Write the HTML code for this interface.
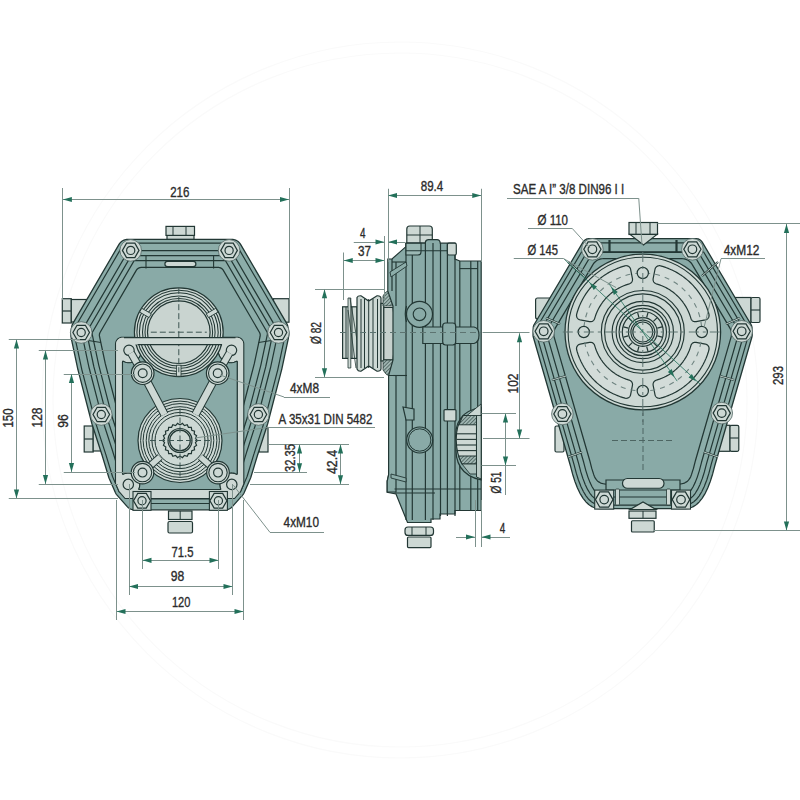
<!DOCTYPE html>
<html><head><meta charset="utf-8"><style>
html,body{margin:0;padding:0;background:#fff;}
svg{display:block;}
text{font-family:"Liberation Sans",sans-serif;fill:#2b2b2b;stroke:#2b2b2b;stroke-width:0.35px;}
</style></head><body>
<svg width="800" height="800" viewBox="0 0 800 800">
<circle cx="400" cy="400" r="347" fill="none" stroke="#fafafa" stroke-width="1.2"/>
<circle cx="400" cy="400" r="358" fill="none" stroke="#fafafa" stroke-width="1.2"/>
<rect x="62.30" y="298.70" width="9.00" height="24.30" rx="0" fill="#cdd8d4" stroke="#223734" stroke-width="1.2"/>
<line x1="62.30" y1="311.00" x2="71.30" y2="311.00" stroke="#223734" stroke-width="1.2"/>
<rect x="71.30" y="299.50" width="16.00" height="22.50" rx="0" fill="#cdd8d4" stroke="#223734" stroke-width="1.2"/>
<rect x="273.50" y="298.70" width="15.50" height="23.50" rx="0" fill="#cdd8d4" stroke="#223734" stroke-width="1.2"/>
<rect x="84.20" y="426.00" width="9.00" height="26.00" rx="0" fill="#cdd8d4" stroke="#223734" stroke-width="1.2"/>
<line x1="84.20" y1="439.00" x2="93.20" y2="439.00" stroke="#223734" stroke-width="1.2"/>
<rect x="93.20" y="427.00" width="8.00" height="24.00" rx="0" fill="#cdd8d4" stroke="#223734" stroke-width="1.2"/>
<rect x="259.00" y="427.50" width="9.00" height="24.50" rx="0" fill="#cdd8d4" stroke="#223734" stroke-width="1.2"/>
<rect x="167.00" y="235.00" width="27.00" height="4.50" rx="0" fill="#cdd8d4" stroke="#223734" stroke-width="1.2"/>
<rect x="166.00" y="226.40" width="28.50" height="9.00" rx="0" fill="#cdd8d4" stroke="#223734" stroke-width="1.2"/>
<line x1="173.00" y1="226.40" x2="173.00" y2="235.40" stroke="#223734" stroke-width="1"/>
<line x1="186.00" y1="226.40" x2="186.00" y2="235.40" stroke="#223734" stroke-width="1"/>
<rect x="168.50" y="511.00" width="23.50" height="8.50" rx="0" fill="#cdd8d4" stroke="#223734" stroke-width="1.2"/>
<line x1="180.20" y1="511.00" x2="180.20" y2="519.50" stroke="#223734" stroke-width="1"/>
<rect x="168.00" y="521.50" width="24.50" height="11.50" rx="1.5" fill="#cdd8d4" stroke="#223734" stroke-width="1.2"/>
<path d="M127.65,239.40 L126.70,239.44 L125.76,239.58 L124.84,239.80 L123.94,240.11 L123.08,240.50 L122.26,240.98 L121.49,241.52 L120.77,242.14 L120.11,242.83 L119.52,243.57 L119.01,244.36 L72.95,323.37 L72.52,324.20 L72.17,325.06 L71.90,325.95 L71.71,326.87 L70.83,332.49 L70.73,333.50 L70.73,334.51 L70.83,335.51 L71.16,337.70 L71.26,338.30 L77.95,369.78 L78.06,370.21 L91.93,423.72 L92.09,424.28 L101.99,454.96 L102.01,455.04 L108.83,477.44 L109.23,478.54 L115.37,492.56 L115.83,493.49 L116.40,494.37 L117.05,495.18 L127.02,506.43 L127.67,507.10 L128.39,507.71 L129.16,508.25 L129.97,508.72 L130.83,509.10 L131.72,509.41 L132.63,509.62 L133.56,509.76 L134.50,509.80 L225.10,509.80 L226.04,509.76 L226.97,509.62 L227.88,509.41 L228.77,509.10 L229.63,508.72 L230.44,508.25 L231.21,507.71 L231.93,507.10 L232.58,506.43 L242.55,495.18 L243.20,494.37 L243.77,493.49 L244.23,492.56 L250.37,478.54 L250.77,477.44 L257.59,455.04 L257.61,454.96 L267.51,424.28 L267.67,423.72 L281.54,370.21 L281.65,369.78 L288.34,338.30 L288.44,337.70 L288.77,335.51 L288.87,334.51 L288.87,333.50 L288.77,332.49 L287.89,326.87 L287.70,325.95 L287.43,325.06 L287.08,324.20 L286.65,323.37 L240.59,244.36 L240.08,243.57 L239.49,242.83 L238.83,242.14 L238.11,241.52 L237.34,240.98 L236.52,240.50 L235.66,240.11 L234.76,239.80 L233.84,239.58 L232.90,239.44 L231.95,239.40 L127.65,239.40Z" fill="#8cada9" stroke="#223734" stroke-width="1.3"/>
<path d="M127.06,243.23 L126.48,243.32 L125.91,243.45 L125.35,243.64 L124.82,243.89 L124.31,244.18 L123.83,244.52 L123.38,244.90 L122.98,245.33 L122.61,245.79 L122.24,246.36 L76.28,325.20 L75.97,325.80 L75.75,326.33 L75.58,326.88 L75.45,327.54 L74.60,332.98 L74.53,333.70 L74.53,334.32 L74.60,335.04 L74.90,337.08 L74.99,337.56 L81.66,368.95 L81.74,369.30 L95.59,422.71 L95.72,423.16 L105.61,453.81 L105.64,453.92 L112.43,476.23 L112.76,477.12 L118.81,490.94 L119.14,491.61 L119.39,492.00 L240.21,492.00 L240.46,491.61 L240.79,490.94 L246.84,477.12 L247.17,476.23 L253.96,453.92 L253.99,453.81 L263.88,423.16 L264.01,422.71 L277.86,369.30 L277.94,368.95 L284.61,337.56 L284.70,337.08 L285.00,335.04 L285.07,334.32 L285.07,333.70 L285.00,332.98 L284.15,327.54 L284.02,326.88 L283.85,326.33 L283.63,325.80 L283.32,325.20 L237.36,246.36 L236.99,245.79 L236.62,245.33 L236.22,244.90 L235.77,244.52 L235.29,244.18 L234.78,243.89 L234.25,243.64 L233.69,243.45 L233.12,243.32 L232.54,243.23 L231.86,243.20 L127.74,243.20 L127.06,243.23Z" fill="none" stroke="#223734" stroke-width="1.2"/>
<path d="M82.04,334.12 L82.30,335.86 L82.35,336.11 L88.98,367.31 L89.03,367.50 L102.82,420.72 L102.89,420.97 L112.76,451.54 L112.81,451.70 L119.54,473.83 L119.72,474.31 L125.60,487.76 L125.64,487.84 L125.70,487.91 L129.33,492.00 L230.27,492.00 L233.90,487.91 L233.96,487.84 L234.00,487.76 L239.88,474.31 L240.06,473.83 L246.79,451.70 L246.84,451.54 L256.71,420.97 L256.78,420.72 L270.57,367.50 L270.62,367.31 L277.25,336.11 L277.30,335.86 L277.56,334.12 L277.56,334.03 L277.56,333.95 L276.77,328.86 L276.76,328.85 L276.75,328.83 L231.21,250.70 L128.39,250.70 L82.85,328.83 L82.84,328.85 L82.83,328.86 L82.04,333.95 L82.04,334.03 L82.04,334.12Z" fill="none" stroke="#223734" stroke-width="1.2"/>
<path d="M87.14,335.06 L87.16,335.17 L93.76,366.24 L93.78,366.32 L107.55,419.42 L107.58,419.53 L117.43,450.05 L117.49,450.26 L124.19,472.27 L124.27,472.48 L129.82,485.17 L135.87,492.00 L223.73,492.00 L229.78,485.17 L235.33,472.48 L235.41,472.27 L242.11,450.26 L242.17,450.05 L252.02,419.53 L252.05,419.42 L265.82,366.32 L265.84,366.24 L272.44,335.17 L272.46,335.06 L272.61,334.04 L272.06,330.51 L228.39,255.60 L131.21,255.60 L87.54,330.51 L86.99,334.04 L87.14,335.06Z" fill="none" stroke="#223734" stroke-width="1.2"/>
<path d="M92.15,334.06 L92.17,334.20 L98.74,365.11 L112.46,418.05 L122.29,448.51 L122.36,448.75 L129.01,470.61 L134.17,482.39 L139.59,488.50 L220.01,488.50 L225.43,482.39 L230.59,470.61 L237.24,448.75 L237.31,448.51 L247.14,418.05 L260.86,365.11 L267.43,334.20 L267.45,334.06 L267.17,332.25 L225.46,260.70 L134.14,260.70 L92.43,332.25 L92.15,334.06Z" fill="none" stroke="#223734" stroke-width="1.2"/>
<path d="M99.94,332.72 L99.73,333.24 L99.56,333.76 L99.45,334.31 L99.39,334.85 L99.38,335.41 L99.42,335.96 L99.51,336.50 L105.23,363.44 L105.29,363.70 L118.85,416.01 L118.95,416.35 L128.66,446.45 L128.76,446.75 L135.21,467.94 L135.45,468.60 L139.50,477.87 L139.78,478.43 L140.12,478.95 L140.51,479.44 L140.81,479.78 L141.20,480.18 L141.63,480.55 L142.09,480.87 L142.58,481.15 L143.10,481.38 L143.63,481.56 L144.18,481.69 L144.74,481.77 L145.30,481.80 L214.30,481.80 L214.86,481.77 L215.42,481.69 L215.97,481.56 L216.50,481.38 L217.02,481.15 L217.51,480.87 L217.97,480.55 L218.40,480.18 L218.79,479.78 L219.09,479.44 L219.48,478.95 L219.82,478.43 L220.10,477.87 L224.15,468.60 L224.39,467.94 L230.83,446.80 L230.92,446.50 L240.65,416.35 L240.75,416.01 L254.31,363.70 L254.37,363.44 L260.09,336.50 L260.18,335.96 L260.22,335.41 L260.21,334.85 L260.15,334.31 L260.04,333.76 L259.87,333.24 L259.66,332.72 L259.41,332.23 L223.35,270.38 L223.04,269.90 L222.69,269.46 L222.29,269.05 L221.86,268.67 L221.40,268.35 L220.90,268.06 L220.39,267.83 L219.85,267.64 L219.30,267.51 L218.73,267.43 L218.16,267.40 L141.44,267.40 L140.87,267.43 L140.30,267.51 L139.75,267.64 L139.21,267.83 L138.70,268.06 L138.20,268.35 L137.74,268.67 L137.31,269.05 L136.91,269.46 L136.56,269.90 L136.25,270.38 L100.19,332.23 L99.94,332.72Z" fill="#89aaa7" stroke="#223734" stroke-width="1.25"/>
<line x1="72.50" y1="338.00" x2="101.00" y2="342.50" stroke="#223734" stroke-width="1.1"/>
<line x1="287.10" y1="338.00" x2="258.60" y2="342.50" stroke="#223734" stroke-width="1.1"/>
<line x1="146.00" y1="256.00" x2="146.00" y2="268.60" stroke="#223734" stroke-width="1.1"/>
<line x1="213.60" y1="256.00" x2="213.60" y2="268.60" stroke="#223734" stroke-width="1.1"/>
<rect x="164.90" y="261.30" width="31.00" height="5.40" rx="2.7" fill="#cdd8d4" stroke="#223734" stroke-width="1.2"/>
<path d="M243.50,342.17 L243.27,341.52 L242.97,340.90 L242.62,340.31 L242.21,339.76 L241.75,339.25 L241.24,338.79 L240.69,338.38 L240.10,338.03 L239.48,337.73 L238.83,337.50 L238.17,337.33 L237.49,337.23 L236.80,337.20 L122.50,337.20 L121.81,337.23 L121.13,337.33 L120.47,337.50 L119.82,337.73 L119.20,338.03 L118.61,338.38 L118.06,338.79 L117.55,339.25 L117.09,339.76 L116.68,340.31 L116.33,340.90 L116.03,341.52 L115.80,342.17 L115.63,342.83 L115.53,343.51 L115.50,344.20 L115.50,483.38 L118.81,490.94 L119.14,491.61 L119.49,492.15 L119.96,492.73 L125.06,498.50 L234.54,498.50 L239.64,492.73 L240.11,492.15 L240.46,491.61 L240.79,490.94 L243.80,484.06 L243.80,344.20 L243.77,343.51 L243.67,342.83 L243.50,342.17Z M124.21,361.84 L124.23,361.85 L125.36,362.26 L125.38,362.26 L126.55,362.56 L126.57,362.56 L127.76,362.74 L127.79,362.74 L128.99,362.80 L129.01,362.80 L130.21,362.74 L130.24,362.74 L131.43,362.56 L131.45,362.56 L132.62,362.26 L132.64,362.26 L133.77,361.85 L133.79,361.84 L134.88,361.33 L134.90,361.32 L135.93,360.70 L135.95,360.69 L136.92,359.97 L136.94,359.95 L137.83,359.15 L137.85,359.13 L138.65,358.24 L138.67,358.22 L139.39,357.25 L139.40,357.23 L140.02,356.20 L140.03,356.18 L140.54,355.09 L140.55,355.07 L140.96,353.94 L140.96,353.92 L141.26,352.75 L141.26,352.73 L141.44,351.54 L141.44,351.51 L141.50,350.31 L141.50,350.29 L141.44,349.09 L141.44,349.06 L141.26,347.87 L141.26,347.85 L140.96,346.68 L140.96,346.66 L140.60,345.67 L140.59,345.62 L140.58,345.58 L140.57,345.53 L140.57,345.48 L140.58,345.43 L140.59,345.39 L140.60,345.34 L140.62,345.30 L140.64,345.25 L140.66,345.21 L140.69,345.17 L140.73,345.14 L140.76,345.11 L140.80,345.08 L140.84,345.06 L140.89,345.04 L140.93,345.02 L140.98,345.01 L141.03,345.00 L141.07,345.00 L218.53,345.00 L218.57,345.00 L218.62,345.01 L218.67,345.02 L218.71,345.04 L218.76,345.06 L218.80,345.08 L218.84,345.11 L218.87,345.14 L218.91,345.17 L218.94,345.21 L218.96,345.25 L218.98,345.30 L219.00,345.34 L219.01,345.39 L219.02,345.43 L219.03,345.48 L219.03,345.53 L219.02,345.58 L219.01,345.62 L219.00,345.67 L218.64,346.66 L218.64,346.68 L218.34,347.85 L218.34,347.87 L218.16,349.06 L218.16,349.09 L218.10,350.29 L218.10,350.31 L218.16,351.51 L218.16,351.54 L218.34,352.73 L218.34,352.75 L218.64,353.92 L218.64,353.94 L219.05,355.07 L219.06,355.09 L219.57,356.18 L219.58,356.20 L220.20,357.23 L220.21,357.25 L220.93,358.22 L220.95,358.24 L221.75,359.13 L221.77,359.15 L222.66,359.95 L222.68,359.97 L223.65,360.69 L223.67,360.70 L224.70,361.32 L224.72,361.33 L225.81,361.84 L225.83,361.85 L226.96,362.26 L226.98,362.26 L228.15,362.56 L228.17,362.56 L229.36,362.74 L229.39,362.74 L230.59,362.80 L230.61,362.80 L231.81,362.74 L231.84,362.74 L233.03,362.56 L233.05,362.56 L234.22,362.26 L234.24,362.26 L235.37,361.85 L235.39,361.84 L236.49,361.33 L236.53,361.31 L236.58,361.29 L236.63,361.28 L236.68,361.28 L236.73,361.28 L236.78,361.29 L236.83,361.30 L236.88,361.31 L236.92,361.33 L236.97,361.36 L237.01,361.39 L237.05,361.42 L237.08,361.46 L237.11,361.50 L237.14,361.54 L237.16,361.58 L237.18,361.63 L237.19,361.68 L237.20,361.73 L237.20,361.78 L237.20,473.69 L237.20,473.75 L237.19,473.79 L237.18,473.84 L237.16,473.89 L237.14,473.94 L237.11,473.98 L237.08,474.02 L237.05,474.06 L237.01,474.09 L236.97,474.12 L236.92,474.14 L236.88,474.16 L236.83,474.18 L236.78,474.19 L236.73,474.19 L236.68,474.19 L236.63,474.19 L236.58,474.18 L236.53,474.17 L236.49,474.15 L235.71,473.78 L235.69,473.77 L234.65,473.40 L234.63,473.39 L233.56,473.12 L233.53,473.12 L232.44,472.96 L232.41,472.95 L231.31,472.90 L231.29,472.90 L230.19,472.95 L230.16,472.96 L229.07,473.12 L229.04,473.12 L227.97,473.39 L227.95,473.40 L226.91,473.77 L226.89,473.78 L225.89,474.25 L225.87,474.26 L224.92,474.83 L224.90,474.85 L224.01,475.50 L224.00,475.52 L223.18,476.26 L223.16,476.28 L222.42,477.10 L222.40,477.11 L221.75,478.00 L221.73,478.02 L221.16,478.97 L221.15,478.99 L220.68,479.99 L220.67,480.01 L220.30,481.05 L220.29,481.07 L220.02,482.14 L220.02,482.17 L219.86,483.26 L219.85,483.29 L219.80,484.39 L219.80,484.41 L219.85,485.51 L219.86,485.54 L220.02,486.63 L220.02,486.66 L220.29,487.73 L220.30,487.75 L220.67,488.79 L220.68,488.81 L220.70,488.85 L220.71,488.90 L220.71,488.95 L220.72,489.00 L220.71,489.05 L220.71,489.10 L220.70,489.15 L220.68,489.19 L220.66,489.24 L220.63,489.28 L220.60,489.32 L220.57,489.35 L220.53,489.39 L220.50,489.42 L220.45,489.44 L220.41,489.46 L220.36,489.48 L220.31,489.49 L220.27,489.50 L220.22,489.50 L139.38,489.50 L139.33,489.50 L139.29,489.49 L139.24,489.48 L139.19,489.46 L139.15,489.44 L139.10,489.42 L139.07,489.39 L139.03,489.35 L139.00,489.32 L138.97,489.28 L138.94,489.24 L138.92,489.19 L138.90,489.15 L138.89,489.10 L138.89,489.05 L138.88,489.00 L138.89,488.95 L138.89,488.90 L138.90,488.85 L138.92,488.81 L138.93,488.79 L139.30,487.75 L139.31,487.73 L139.58,486.66 L139.58,486.63 L139.74,485.54 L139.75,485.51 L139.80,484.41 L139.80,484.39 L139.75,483.29 L139.74,483.26 L139.58,482.17 L139.58,482.14 L139.31,481.07 L139.30,481.05 L138.93,480.01 L138.92,479.99 L138.45,478.99 L138.44,478.97 L137.87,478.02 L137.85,478.00 L137.20,477.11 L137.18,477.10 L136.44,476.28 L136.42,476.26 L135.60,475.52 L135.59,475.50 L134.70,474.85 L134.68,474.83 L133.73,474.26 L133.71,474.25 L132.71,473.78 L132.69,473.77 L131.65,473.40 L131.63,473.39 L130.56,473.12 L130.53,473.12 L129.44,472.96 L129.41,472.95 L128.31,472.90 L128.29,472.90 L127.19,472.95 L127.16,472.96 L126.07,473.12 L126.04,473.12 L124.97,473.39 L124.95,473.40 L123.91,473.77 L123.89,473.78 L123.21,474.10 L123.17,474.12 L123.12,474.13 L123.07,474.14 L123.02,474.15 L122.97,474.15 L122.92,474.14 L122.87,474.13 L122.82,474.11 L122.78,474.09 L122.73,474.07 L122.69,474.04 L122.65,474.01 L122.62,473.97 L122.59,473.93 L122.56,473.89 L122.54,473.84 L122.52,473.80 L122.51,473.75 L122.50,473.70 L122.50,473.65 L122.50,361.83 L122.50,361.78 L122.51,361.73 L122.52,361.68 L122.54,361.63 L122.56,361.59 L122.59,361.54 L122.62,361.50 L122.65,361.47 L122.69,361.43 L122.73,361.40 L122.78,361.38 L122.82,361.36 L122.87,361.34 L122.92,361.33 L122.97,361.33 L123.02,361.33 L123.07,361.33 L123.12,361.34 L123.17,361.36 L123.21,361.37 L124.21,361.84Z" fill="#cdd8d4" stroke="#223734" stroke-width="1.1"/>
<path d="M123.21,361.37 L123.17,361.36 L123.12,361.34 L123.07,361.33 L123.02,361.33 L122.97,361.33 L122.92,361.33 L122.87,361.34 L122.82,361.36 L122.78,361.38 L122.73,361.40 L122.69,361.43 L122.65,361.47 L122.62,361.50 L122.59,361.54 L122.56,361.59 L122.54,361.63 L122.52,361.68 L122.51,361.73 L122.50,361.78 L122.50,361.83 L122.50,473.65 L122.50,473.70 L122.51,473.75 L122.52,473.80 L122.54,473.84 L122.56,473.89 L122.59,473.93 L122.62,473.97 L122.65,474.01 L122.69,474.04 L122.73,474.07 L122.78,474.09 L122.82,474.11 L122.87,474.13 L122.92,474.14 L122.97,474.15 L123.02,474.15 L123.07,474.14 L123.12,474.13 L123.17,474.12 L123.21,474.10 L123.89,473.78 L123.91,473.77 L124.95,473.40 L124.97,473.39 L126.04,473.12 L126.07,473.12 L127.16,472.96 L127.19,472.95 L128.29,472.90 L128.31,472.90 L129.41,472.95 L129.44,472.96 L130.53,473.12 L130.56,473.12 L131.63,473.39 L131.65,473.40 L132.69,473.77 L132.71,473.78 L133.71,474.25 L133.73,474.26 L134.68,474.83 L134.70,474.85 L135.59,475.50 L135.60,475.52 L136.42,476.26 L136.44,476.28 L137.18,477.10 L137.20,477.11 L137.85,478.00 L137.87,478.02 L138.44,478.97 L138.45,478.99 L138.92,479.99 L138.93,480.01 L139.30,481.05 L139.31,481.07 L139.58,482.14 L139.58,482.17 L139.74,483.26 L139.75,483.29 L139.80,484.39 L139.80,484.41 L139.75,485.51 L139.74,485.54 L139.58,486.63 L139.58,486.66 L139.31,487.73 L139.30,487.75 L138.93,488.79 L138.92,488.81 L138.90,488.85 L138.89,488.90 L138.89,488.95 L138.88,489.00 L138.89,489.05 L138.89,489.10 L138.90,489.15 L138.92,489.19 L138.94,489.24 L138.97,489.28 L139.00,489.32 L139.03,489.35 L139.07,489.39 L139.10,489.42 L139.15,489.44 L139.19,489.46 L139.24,489.48 L139.29,489.49 L139.33,489.50 L139.38,489.50 L220.22,489.50 L220.27,489.50 L220.31,489.49 L220.36,489.48 L220.41,489.46 L220.45,489.44 L220.50,489.42 L220.53,489.39 L220.57,489.35 L220.60,489.32 L220.63,489.28 L220.66,489.24 L220.68,489.19 L220.70,489.15 L220.71,489.10 L220.71,489.05 L220.72,489.00 L220.71,488.95 L220.71,488.90 L220.70,488.85 L220.68,488.81 L220.67,488.79 L220.30,487.75 L220.29,487.73 L220.02,486.66 L220.02,486.63 L219.86,485.54 L219.85,485.51 L219.80,484.41 L219.80,484.39 L219.85,483.29 L219.86,483.26 L220.02,482.17 L220.02,482.14 L220.29,481.07 L220.30,481.05 L220.67,480.01 L220.68,479.99 L221.15,478.99 L221.16,478.97 L221.73,478.02 L221.75,478.00 L222.40,477.11 L222.42,477.10 L223.16,476.28 L223.18,476.26 L224.00,475.52 L224.01,475.50 L224.90,474.85 L224.92,474.83 L225.87,474.26 L225.89,474.25 L226.89,473.78 L226.91,473.77 L227.95,473.40 L227.97,473.39 L229.04,473.12 L229.07,473.12 L230.16,472.96 L230.19,472.95 L231.29,472.90 L231.31,472.90 L232.41,472.95 L232.44,472.96 L233.53,473.12 L233.56,473.12 L234.63,473.39 L234.65,473.40 L235.69,473.77 L235.71,473.78 L236.49,474.15 L236.53,474.17 L236.58,474.18 L236.63,474.19 L236.68,474.19 L236.73,474.19 L236.78,474.19 L236.83,474.18 L236.88,474.16 L236.92,474.14 L236.97,474.12 L237.01,474.09 L237.05,474.06 L237.08,474.02 L237.11,473.98 L237.14,473.94 L237.16,473.89 L237.18,473.84 L237.19,473.79 L237.20,473.75 L237.20,473.69 L237.20,361.78 L237.20,361.73 L237.19,361.68 L237.18,361.63 L237.16,361.58 L237.14,361.54 L237.11,361.50 L237.08,361.46 L237.05,361.42 L237.01,361.39 L236.97,361.36 L236.92,361.33 L236.88,361.31 L236.83,361.30 L236.78,361.29 L236.73,361.28 L236.68,361.28 L236.63,361.28 L236.58,361.29 L236.53,361.31 L236.49,361.33 L235.39,361.84 L235.37,361.85 L234.24,362.26 L234.22,362.26 L233.05,362.56 L233.03,362.56 L231.84,362.74 L231.81,362.74 L230.61,362.80 L230.59,362.80 L229.39,362.74 L229.36,362.74 L228.17,362.56 L228.15,362.56 L226.98,362.26 L226.96,362.26 L225.83,361.85 L225.81,361.84 L224.72,361.33 L224.70,361.32 L223.67,360.70 L223.65,360.69 L222.68,359.97 L222.66,359.95 L221.77,359.15 L221.75,359.13 L220.95,358.24 L220.93,358.22 L220.21,357.25 L220.20,357.23 L219.58,356.20 L219.57,356.18 L219.06,355.09 L219.05,355.07 L218.64,353.94 L218.64,353.92 L218.34,352.75 L218.34,352.73 L218.16,351.54 L218.16,351.51 L218.10,350.31 L218.10,350.29 L218.16,349.09 L218.16,349.06 L218.34,347.87 L218.34,347.85 L218.64,346.68 L218.64,346.66 L219.00,345.67 L219.01,345.62 L219.02,345.58 L219.03,345.53 L219.03,345.48 L219.02,345.43 L219.01,345.39 L219.00,345.34 L218.98,345.30 L218.96,345.25 L218.94,345.21 L218.91,345.17 L218.87,345.14 L218.84,345.11 L218.80,345.08 L218.76,345.06 L218.71,345.04 L218.67,345.02 L218.62,345.01 L218.57,345.00 L218.53,345.00 L141.07,345.00 L141.03,345.00 L140.98,345.01 L140.93,345.02 L140.89,345.04 L140.84,345.06 L140.80,345.08 L140.76,345.11 L140.73,345.14 L140.69,345.17 L140.66,345.21 L140.64,345.25 L140.62,345.30 L140.60,345.34 L140.59,345.39 L140.58,345.43 L140.57,345.48 L140.57,345.53 L140.58,345.58 L140.59,345.62 L140.60,345.67 L140.96,346.66 L140.96,346.68 L141.26,347.85 L141.26,347.87 L141.44,349.06 L141.44,349.09 L141.50,350.29 L141.50,350.31 L141.44,351.51 L141.44,351.54 L141.26,352.73 L141.26,352.75 L140.96,353.92 L140.96,353.94 L140.55,355.07 L140.54,355.09 L140.03,356.18 L140.02,356.20 L139.40,357.23 L139.39,357.25 L138.67,358.22 L138.65,358.24 L137.85,359.13 L137.83,359.15 L136.94,359.95 L136.92,359.97 L135.95,360.69 L135.93,360.70 L134.90,361.32 L134.88,361.33 L133.79,361.84 L133.77,361.85 L132.64,362.26 L132.62,362.26 L131.45,362.56 L131.43,362.56 L130.24,362.74 L130.21,362.74 L129.01,362.80 L128.99,362.80 L127.79,362.74 L127.76,362.74 L126.57,362.56 L126.55,362.56 L125.38,362.26 L125.36,362.26 L124.23,361.85 L124.21,361.84 L123.21,361.37Z" fill="#89aaa7" stroke="#223734" stroke-width="1.1"/>
<circle cx="178.80" cy="332.20" r="44.40" fill="#cdd8d4" stroke="#223734" stroke-width="1.2"/>
<circle cx="178.80" cy="332.20" r="41.90" fill="none" stroke="#223734" stroke-width="1.05"/>
<circle cx="178.80" cy="332.20" r="39.40" fill="none" stroke="#223734" stroke-width="1.05"/>
<circle cx="178.80" cy="332.20" r="36.30" fill="none" stroke="#223734" stroke-width="1.05"/>
<circle cx="178.80" cy="332.20" r="33.80" fill="none" stroke="#223734" stroke-width="1.05"/>
<circle cx="178.80" cy="332.20" r="31.30" fill="#c9d4d0" stroke="#223734" stroke-width="1.2"/>
<rect x="139.96" y="310.75" width="11" height="4.4" fill="#cdd8d4" stroke="#223734" stroke-width="0.8" transform="rotate(-150 145.46 312.95)"/>
<rect x="206.64" y="310.75" width="11" height="4.4" fill="#cdd8d4" stroke="#223734" stroke-width="0.8" transform="rotate(-30 212.14 312.95)"/>
<rect x="173.30" y="368.50" width="11" height="4.4" fill="#cdd8d4" stroke="#223734" stroke-width="0.8" transform="rotate(90 178.80 370.70)"/>
<line x1="178.80" y1="304.20" x2="178.80" y2="372.20" stroke="#3c5552" stroke-width="1" stroke-dasharray="6 3"/>
<line x1="150.80" y1="332.20" x2="206.80" y2="332.20" stroke="#3c5552" stroke-width="1" stroke-dasharray="6 3"/>
<path d="M116.50,344.60 L242.80,344.60 L242.80,342.00 L242.71,341.75 L242.44,341.18 L242.12,340.64 L241.75,340.14 L241.32,339.68 L240.86,339.25 L240.36,338.88 L239.82,338.56 L239.25,338.29 L238.66,338.08 L238.05,337.92 L237.43,337.83 L236.79,337.80 L122.51,337.80 L121.87,337.83 L121.25,337.92 L120.64,338.08 L120.05,338.29 L119.48,338.56 L118.94,338.88 L118.44,339.25 L117.98,339.68 L117.55,340.14 L117.18,340.64 L116.86,341.18 L116.59,341.75 L116.50,342.00 L116.50,344.60Z" fill="#cdd8d4" stroke="none" stroke-width="0"/>
<line x1="137.50" y1="344.60" x2="222.00" y2="344.60" stroke="#223734" stroke-width="1.2"/>
<line x1="124.00" y1="337.60" x2="235.50" y2="337.60" stroke="#223734" stroke-width="1.25"/>
<circle cx="129.00" cy="350.30" r="5.20" fill="#cdd8d4" stroke="#223734" stroke-width="1.2"/>
<circle cx="231.50" cy="350.30" r="5.20" fill="#cdd8d4" stroke="#223734" stroke-width="1.2"/>
<circle cx="128.30" cy="484.40" r="5.20" fill="#cdd8d4" stroke="#223734" stroke-width="1.2"/>
<circle cx="231.80" cy="484.40" r="5.20" fill="#cdd8d4" stroke="#223734" stroke-width="1.2"/>
<circle cx="180.00" cy="440.50" r="42.00" fill="#cdd8d4" stroke="#223734" stroke-width="1.2"/>
<circle cx="180.00" cy="440.50" r="39.40" fill="none" stroke="#223734" stroke-width="1.0"/>
<circle cx="180.00" cy="440.50" r="36.90" fill="none" stroke="#223734" stroke-width="1.0"/>
<circle cx="180.00" cy="440.50" r="33.80" fill="none" stroke="#223734" stroke-width="1.0"/>
<circle cx="180.00" cy="440.50" r="31.20" fill="none" stroke="#223734" stroke-width="1.0"/>
<circle cx="180.00" cy="440.50" r="28.10" fill="none" stroke="#223734" stroke-width="1.0"/>
<circle cx="180.00" cy="440.50" r="25.00" fill="none" stroke="#223734" stroke-width="1.0"/>
<line x1="142.70" y1="373.20" x2="164.50" y2="414.50" stroke="#223734" stroke-width="8.5"/>
<line x1="142.70" y1="373.20" x2="164.50" y2="414.50" stroke="#cdd8d4" stroke-width="6.5"/>
<line x1="217.70" y1="373.20" x2="195.50" y2="414.50" stroke="#223734" stroke-width="8.5"/>
<line x1="217.70" y1="373.20" x2="195.50" y2="414.50" stroke="#cdd8d4" stroke-width="6.5"/>
<line x1="142.70" y1="373.20" x2="131.00" y2="353.00" stroke="#223734" stroke-width="8"/>
<line x1="142.70" y1="373.20" x2="131.00" y2="353.00" stroke="#cdd8d4" stroke-width="6"/>
<line x1="217.70" y1="373.20" x2="229.50" y2="353.00" stroke="#223734" stroke-width="8"/>
<line x1="217.70" y1="373.20" x2="229.50" y2="353.00" stroke="#cdd8d4" stroke-width="6"/>
<line x1="142.50" y1="472.60" x2="160.00" y2="457.00" stroke="#223734" stroke-width="7.5"/>
<line x1="142.50" y1="472.60" x2="160.00" y2="457.00" stroke="#cdd8d4" stroke-width="5.5"/>
<line x1="218.00" y1="472.60" x2="200.50" y2="457.00" stroke="#223734" stroke-width="7.5"/>
<line x1="218.00" y1="472.60" x2="200.50" y2="457.00" stroke="#cdd8d4" stroke-width="5.5"/>
<polygon points="197.30,440.50 195.44,442.72 196.60,445.37 194.19,446.98 194.55,449.85 191.79,450.72 191.33,453.57 188.43,453.62 187.19,456.24 184.40,455.47 182.46,457.62 180.00,456.10 177.54,457.62 175.60,455.47 172.81,456.24 171.57,453.62 168.67,453.57 168.21,450.72 165.45,449.85 165.81,446.98 163.40,445.37 164.56,442.72 162.70,440.50 164.56,438.28 163.40,435.63 165.81,434.02 165.45,431.15 168.21,430.28 168.67,427.43 171.57,427.38 172.81,424.76 175.60,425.53 177.54,423.38 180.00,424.90 182.46,423.38 184.40,425.53 187.19,424.76 188.43,427.38 191.33,427.43 191.79,430.28 194.55,431.15 194.19,434.02 196.60,435.63 195.44,438.28" fill="#cdd8d4" stroke="#223734" stroke-width="1.2"/>
<circle cx="180.00" cy="440.50" r="12.00" fill="#cdd8d4" stroke="#223734" stroke-width="1.2"/>
<circle cx="180.00" cy="440.50" r="10.30" fill="none" stroke="#223734" stroke-width="1.2"/>
<circle cx="142.70" cy="373.20" r="11.30" fill="#cdd8d4" stroke="#223734" stroke-width="1.2"/>
<circle cx="142.70" cy="373.20" r="9.20" fill="none" stroke="#223734" stroke-width="1.1"/>
<circle cx="142.70" cy="373.20" r="4.40" fill="none" stroke="#223734" stroke-width="1.2"/>
<circle cx="217.70" cy="373.20" r="11.30" fill="#cdd8d4" stroke="#223734" stroke-width="1.2"/>
<circle cx="217.70" cy="373.20" r="9.20" fill="none" stroke="#223734" stroke-width="1.1"/>
<circle cx="217.70" cy="373.20" r="4.40" fill="none" stroke="#223734" stroke-width="1.2"/>
<circle cx="142.50" cy="472.60" r="11.30" fill="#cdd8d4" stroke="#223734" stroke-width="1.2"/>
<circle cx="142.50" cy="472.60" r="9.20" fill="none" stroke="#223734" stroke-width="1.1"/>
<circle cx="142.50" cy="472.60" r="4.40" fill="none" stroke="#223734" stroke-width="1.2"/>
<circle cx="218.00" cy="472.60" r="11.30" fill="#cdd8d4" stroke="#223734" stroke-width="1.2"/>
<circle cx="218.00" cy="472.60" r="9.20" fill="none" stroke="#223734" stroke-width="1.1"/>
<circle cx="218.00" cy="472.60" r="4.40" fill="none" stroke="#223734" stroke-width="1.2"/>
<line x1="151.00" y1="499.00" x2="209.00" y2="499.00" stroke="#223734" stroke-width="1.2"/>
<line x1="151.00" y1="503.50" x2="209.00" y2="503.50" stroke="#223734" stroke-width="1.2"/>
<circle cx="130.70" cy="250.40" r="10.80" fill="#cdd8d4" stroke="#506663" stroke-width="0.8"/>
<polygon points="139.00,250.40 134.85,257.59 126.55,257.59 122.40,250.40 126.55,243.21 134.85,243.21" fill="#cdd8d4" stroke="#223734" stroke-width="1.25"/>
<circle cx="130.70" cy="250.40" r="4.10" fill="#cdd8d4" stroke="#223734" stroke-width="1.2"/>
<circle cx="229.10" cy="250.40" r="10.80" fill="#cdd8d4" stroke="#506663" stroke-width="0.8"/>
<polygon points="237.40,250.40 233.25,257.59 224.95,257.59 220.80,250.40 224.95,243.21 233.25,243.21" fill="#cdd8d4" stroke="#223734" stroke-width="1.25"/>
<circle cx="229.10" cy="250.40" r="4.10" fill="#cdd8d4" stroke="#223734" stroke-width="1.2"/>
<circle cx="81.20" cy="332.50" r="10.80" fill="#cdd8d4" stroke="#506663" stroke-width="0.8"/>
<polygon points="89.50,332.50 85.35,339.69 77.05,339.69 72.90,332.50 77.05,325.31 85.35,325.31" fill="#cdd8d4" stroke="#223734" stroke-width="1.25"/>
<circle cx="81.20" cy="332.50" r="4.10" fill="#cdd8d4" stroke="#223734" stroke-width="1.2"/>
<circle cx="278.50" cy="332.50" r="10.80" fill="#cdd8d4" stroke="#506663" stroke-width="0.8"/>
<polygon points="286.80,332.50 282.65,339.69 274.35,339.69 270.20,332.50 274.35,325.31 282.65,325.31" fill="#cdd8d4" stroke="#223734" stroke-width="1.25"/>
<circle cx="278.50" cy="332.50" r="4.10" fill="#cdd8d4" stroke="#223734" stroke-width="1.2"/>
<circle cx="101.30" cy="414.50" r="10.80" fill="#cdd8d4" stroke="#506663" stroke-width="0.8"/>
<polygon points="109.60,414.50 105.45,421.69 97.15,421.69 93.00,414.50 97.15,407.31 105.45,407.31" fill="#cdd8d4" stroke="#223734" stroke-width="1.25"/>
<circle cx="101.30" cy="414.50" r="4.10" fill="#cdd8d4" stroke="#223734" stroke-width="1.2"/>
<circle cx="258.40" cy="414.50" r="10.80" fill="#cdd8d4" stroke="#506663" stroke-width="0.8"/>
<polygon points="266.70,414.50 262.55,421.69 254.25,421.69 250.10,414.50 254.25,407.31 262.55,407.31" fill="#cdd8d4" stroke="#223734" stroke-width="1.25"/>
<circle cx="258.40" cy="414.50" r="4.10" fill="#cdd8d4" stroke="#223734" stroke-width="1.2"/>
<rect x="133.00" y="491.50" width="18.00" height="18.80" rx="0" fill="#cdd8d4" stroke="#223734" stroke-width="1.1"/>
<polygon points="150.50,500.80 146.25,508.16 137.75,508.16 133.50,500.80 137.75,493.44 146.25,493.44" fill="#cdd8d4" stroke="#223734" stroke-width="1.25"/>
<circle cx="142.00" cy="500.80" r="4.10" fill="#cdd8d4" stroke="#223734" stroke-width="1.2"/>
<rect x="209.40" y="491.50" width="18.00" height="18.80" rx="0" fill="#cdd8d4" stroke="#223734" stroke-width="1.1"/>
<polygon points="226.90,500.80 222.65,508.16 214.15,508.16 209.90,500.80 214.15,493.44 222.65,493.44" fill="#cdd8d4" stroke="#223734" stroke-width="1.25"/>
<circle cx="218.40" cy="500.80" r="4.10" fill="#cdd8d4" stroke="#223734" stroke-width="1.2"/>
<line x1="180.00" y1="408.50" x2="180.00" y2="476.50" stroke="#3c5552" stroke-width="1" stroke-dasharray="6 3"/>
<line x1="150.00" y1="440.50" x2="210.00" y2="440.50" stroke="#3c5552" stroke-width="1" stroke-dasharray="6 3"/>
<line x1="178.80" y1="288.00" x2="178.80" y2="302.00" stroke="#3c5552" stroke-width="1" stroke-dasharray="6 3"/>
<rect x="342.60" y="306.80" width="14.40" height="51.60" rx="0" fill="#cdd8d4" stroke="#223734" stroke-width="1.2"/>
<line x1="346.00" y1="307.00" x2="346.00" y2="358.00" stroke="#223734" stroke-width="1"/>
<line x1="352.00" y1="307.00" x2="352.00" y2="358.00" stroke="#223734" stroke-width="1"/>
<path d="M348,298 L350.8,298 L350.8,368 L348,368 Z" fill="#cdd8d4" stroke="#223734" stroke-width="0.8"/>
<path d="M348,310 L356,368 M350,298 L357,340" stroke="#223734" stroke-width="0.8" fill="none"/>
<path d="M357,297.5 Q358,295.5 361,295.8 L368,300.6 L369.5,300.6 L377,295.8 Q380.5,295.5 381,298 L381,369 Q380.5,371.5 377,371.2 L369.5,366.4 L368,366.4 L361,371.2 Q358,371.5 357,369 Z" fill="#cdd8d4" stroke="#223734" stroke-width="1.2"/>
<line x1="361.00" y1="299.00" x2="361.00" y2="368.00" stroke="#223734" stroke-width="1"/>
<line x1="364.50" y1="299.00" x2="364.50" y2="368.00" stroke="#223734" stroke-width="1"/>
<line x1="368.70" y1="299.00" x2="368.70" y2="368.00" stroke="#223734" stroke-width="1"/>
<line x1="373.00" y1="299.00" x2="373.00" y2="368.00" stroke="#223734" stroke-width="1"/>
<line x1="377.50" y1="299.00" x2="377.50" y2="368.00" stroke="#223734" stroke-width="1"/>
<rect x="381.00" y="303.40" width="2.80" height="57.60" rx="0" fill="#cdd8d4" stroke="#223734" stroke-width="1.2"/>
<path d="M383.8,307.5 L393,307.5 Q397,333 393,359.8 L383.8,359.8 Z" fill="#c6d1cd" stroke="#223734" stroke-width="1.2"/>
<defs><pattern id="hatch" width="2.6" height="2.6" patternUnits="userSpaceOnUse" patternTransform="rotate(45)"><rect width="2.6" height="2.6" fill="#9fb5b1"/><line x1="0" y1="0" x2="0" y2="2.6" stroke="#2f4441" stroke-width="1.2"/></pattern></defs>
<path d="M383,306 L383,296 Q386,290 391,291 L393,306 Z" fill="url(#hatch)" stroke="#223734" stroke-width="0.8"/>
<path d="M383,360 L383,370 Q386,376 391,376.3 L393,360 Z" fill="url(#hatch)" stroke="#223734" stroke-width="0.8"/>
<path d="M406.8,243 L406.8,229 Q406.8,226 409.8,226 L429.3,226 Q432.3,226 432.3,229 L432.3,243 Z" fill="#cdd8d4" stroke="#223734" stroke-width="1.2"/>
<line x1="420.00" y1="226.00" x2="420.00" y2="243.00" stroke="#223734" stroke-width="1.0"/>
<line x1="406.80" y1="235.00" x2="432.30" y2="235.00" stroke="#223734" stroke-width="1.0"/>
<path d="M387.8,259 L392,259 L406,246.6 L406,243.2 L425.4,243.2 L425.4,242 Q426,239.7 428.5,239.7 L437,239.7 Q439.8,239.7 440.3,243.2 L455,243.2 L455,259 L459.8,261 L481.2,261 L481.2,510.5 L455,510.5 L455,514 L440,514 L440,519 L431,519 L431,522.5 L407.5,522.5 L396,494 L387.2,492.3 L387.2,481 L388.6,475 L388.6,375.5 L393,360 L393,306 L387.8,291 Z" fill="#89aaa7" stroke="#223734" stroke-width="1.2"/>
<path d="M388.6,375.5 L396,375.5 L396,492 L387.2,492 L387.2,481 L388.6,475 Z" fill="#8cada9" stroke="#223734" stroke-width="1.2"/>
<line x1="406.00" y1="243.00" x2="406.00" y2="520.00" stroke="#223734" stroke-width="1.2"/>
<line x1="412.30" y1="243.00" x2="412.30" y2="520.00" stroke="#223734" stroke-width="1.2"/>
<line x1="425.40" y1="243.00" x2="425.40" y2="520.00" stroke="#223734" stroke-width="1.2"/>
<line x1="433.00" y1="243.00" x2="433.00" y2="520.00" stroke="#223734" stroke-width="1.2"/>
<line x1="440.50" y1="243.00" x2="440.50" y2="516.00" stroke="#223734" stroke-width="1.2"/>
<line x1="447.40" y1="243.00" x2="447.40" y2="516.00" stroke="#223734" stroke-width="1.2"/>
<line x1="455.00" y1="243.00" x2="455.00" y2="516.00" stroke="#223734" stroke-width="1.2"/>
<line x1="459.80" y1="261.00" x2="459.80" y2="510.00" stroke="#223734" stroke-width="1.2"/>
<line x1="470.80" y1="261.00" x2="470.80" y2="510.00" stroke="#223734" stroke-width="1.2"/>
<line x1="477.70" y1="261.00" x2="477.70" y2="510.00" stroke="#223734" stroke-width="1.2"/>
<path d="M406,243.2 L421,243.2 L421,252 Q421,255 418,255 L406,255 Z" fill="#9bb8b4" stroke="#223734" stroke-width="1.1"/>
<line x1="406.00" y1="250.80" x2="455.00" y2="250.80" stroke="#223734" stroke-width="1.1"/>
<line x1="459.80" y1="268.60" x2="477.70" y2="268.60" stroke="#223734" stroke-width="1.1"/>
<rect x="447.40" y="243.20" width="8.90" height="11.80" rx="1.5" fill="#cdd8d4" stroke="#223734" stroke-width="1.2"/>
<line x1="396.00" y1="262.00" x2="396.00" y2="306.00" stroke="#223734" stroke-width="1.2"/>
<line x1="392.00" y1="259.00" x2="392.00" y2="291.00" stroke="#223734" stroke-width="1.2"/>
<path d="M390,272 L406,262 L407,266 L391,277 Z" fill="#8cada9" stroke="#223734" stroke-width="0.9"/>
<line x1="392.00" y1="262.00" x2="406.00" y2="262.00" stroke="#223734" stroke-width="1.1"/>
<line x1="393.00" y1="375.50" x2="407.00" y2="375.50" stroke="#223734" stroke-width="1.1"/>
<path d="M406.5,306 Q404,314 406.5,322" fill="none" stroke="#223734" stroke-width="1.1"/>
<circle cx="419.50" cy="314.30" r="13.00" fill="#89aaa7" stroke="#223734" stroke-width="1.2"/>
<circle cx="419.50" cy="314.30" r="6.30" fill="none" stroke="#223734" stroke-width="1.1"/>
<path d="M422.8,327 L474,327 Q479,328 479,335 Q479,342.5 474,343.5 L422.8,343.5 Z" fill="#89aaa7" stroke="#223734" stroke-width="1.2"/>
<rect x="442.70" y="323.00" width="13.00" height="22.00" rx="3" fill="#89aaa7" stroke="#223734" stroke-width="1.2"/>
<circle cx="419.70" cy="440.00" r="13.00" fill="#89aaa7" stroke="#223734" stroke-width="1.2"/>
<circle cx="419.70" cy="440.00" r="11.20" fill="none" stroke="#223734" stroke-width="1"/>
<path d="M403,407 L414,409 L414,420 L406,420 Z" fill="#89aaa7" stroke="#223734" stroke-width="1.2"/>
<rect x="444.00" y="409.60" width="12.00" height="11.40" rx="1" fill="#cdd8d4" stroke="#223734" stroke-width="1.2"/>
<path d="M391,474 L406,478 L406,482 L391,478 Z" fill="#8cada9" stroke="#223734" stroke-width="0.9"/>
<line x1="394.50" y1="493.00" x2="435.00" y2="493.00" stroke="#223734" stroke-width="1.1"/>
<line x1="394.50" y1="489.00" x2="481.00" y2="489.00" stroke="#223734" stroke-width="1.1"/>
<path d="M481.2,407.5 Q452,412 456.2,443 Q453,474 481.2,480 Z" fill="#89aaa7" stroke="#223734" stroke-width="1.2"/>
<path d="M476.5,415.5 L463,415.5 Q456,426 456.2,440 Q456.5,454 462,464 L476.5,464 Z" fill="#cdd8d4" stroke="#223734" stroke-width="1.1"/>
<path d="M463,415.5 L476.5,415.5 L476.5,424.8 L459,424.8 Z" fill="url(#hatch)" stroke="#223734" stroke-width="1"/>
<path d="M458.5,456 L476.5,456 L476.5,464 L462,464 Z" fill="url(#hatch)" stroke="#223734" stroke-width="1"/>
<line x1="456.50" y1="433.80" x2="476.50" y2="433.80" stroke="#223734" stroke-width="1.1"/>
<line x1="456.50" y1="439.40" x2="476.50" y2="439.40" stroke="#223734" stroke-width="1.1"/>
<line x1="456.50" y1="445.00" x2="476.50" y2="445.00" stroke="#223734" stroke-width="1.1"/>
<line x1="456.50" y1="450.60" x2="476.50" y2="450.60" stroke="#223734" stroke-width="1.1"/>
<path d="M476.5,410 L481.2,408 L481.2,479 L476.5,477 Z" fill="#b9cac6" stroke="#223734" stroke-width="1"/>
<path d="M467,415.5 L481,404 L481,415.5 Z" fill="#c9d6d2" stroke="#223734" stroke-width="0.9"/>
<path d="M462,464 L476.5,464 L476.5,474 L470,474 Z" fill="#a9bfbb" stroke="#223734" stroke-width="0.9"/>
<rect x="405.00" y="527.00" width="28.50" height="8.40" rx="3" fill="#cdd8d4" stroke="#223734" stroke-width="1.2"/>
<line x1="412.00" y1="527.00" x2="412.00" y2="535.40" stroke="#223734" stroke-width="1"/>
<line x1="426.00" y1="527.00" x2="426.00" y2="535.40" stroke="#223734" stroke-width="1"/>
<rect x="407.50" y="537.00" width="23.50" height="10.60" rx="1" fill="#cdd8d4" stroke="#223734" stroke-width="1.2"/>
<line x1="340.00" y1="332.50" x2="481.00" y2="332.50" stroke="#5d7471" stroke-width="1" stroke-dasharray="6 4"/>
<rect x="535.60" y="298.00" width="18.60" height="21.00" rx="2" fill="#cdd8d4" stroke="#223734" stroke-width="1.2"/>
<rect x="735.00" y="297.50" width="16.00" height="25.00" rx="0" fill="#cdd8d4" stroke="#223734" stroke-width="1.2"/>
<rect x="751.00" y="297.50" width="9.00" height="25.00" rx="1.5" fill="#cdd8d4" stroke="#223734" stroke-width="1.2"/>
<line x1="751.00" y1="310.00" x2="760.00" y2="310.00" stroke="#223734" stroke-width="1.1"/>
<rect x="555.00" y="426.00" width="9.00" height="26.00" rx="1.5" fill="#cdd8d4" stroke="#223734" stroke-width="1.2"/>
<rect x="717.70" y="425.30" width="12.30" height="26.00" rx="0" fill="#cdd8d4" stroke="#223734" stroke-width="1.2"/>
<rect x="730.00" y="425.30" width="8.80" height="26.00" rx="1.5" fill="#cdd8d4" stroke="#223734" stroke-width="1.2"/>
<line x1="730.00" y1="438.00" x2="738.80" y2="438.00" stroke="#223734" stroke-width="1.1"/>
<rect x="629.00" y="222.50" width="28.50" height="12.00" rx="0" fill="#cdd8d4" stroke="#223734" stroke-width="1.2"/>
<line x1="636.00" y1="222.50" x2="636.00" y2="234.50" stroke="#223734" stroke-width="1"/>
<line x1="650.00" y1="222.50" x2="650.00" y2="234.50" stroke="#223734" stroke-width="1"/>
<rect x="629.00" y="511.00" width="27.00" height="7.30" rx="0" fill="#cdd8d4" stroke="#223734" stroke-width="1.2"/>
<line x1="643.00" y1="511.00" x2="643.00" y2="518.30" stroke="#223734" stroke-width="1"/>
<rect x="631.50" y="520.75" width="22.75" height="11.25" rx="1" fill="#cdd8d4" stroke="#223734" stroke-width="1.2"/>
<path d="M588.99,238.70 L588.33,238.73 L587.68,238.82 L587.04,238.98 L586.41,239.19 L585.81,239.46 L585.24,239.79 L584.70,240.17 L584.20,240.60 L583.74,241.07 L583.33,241.58 L582.97,242.13 L534.22,324.45 L533.89,325.07 L533.63,325.73 L533.43,326.41 L533.30,327.10 L533.25,327.80 L533.03,334.90 L533.05,335.63 L533.14,336.35 L533.30,337.05 L570.49,465.95 L570.51,466.05 L572.55,473.94 L572.65,474.29 L574.81,481.16 L574.96,481.58 L577.26,487.52 L577.47,488.03 L579.87,493.02 L580.20,493.62 L582.65,497.65 L583.14,498.37 L585.58,501.44 L585.94,501.85 L586.32,502.24 L588.67,504.41 L589.17,504.83 L589.72,505.21 L591.93,506.59 L592.60,506.95 L593.30,507.25 L595.44,508.00 L596.21,508.23 L596.99,508.36 L599.61,508.66 L600.39,508.70 L684.81,508.70 L685.59,508.66 L688.21,508.36 L688.99,508.23 L689.76,508.00 L691.90,507.25 L692.60,506.95 L693.27,506.59 L695.48,505.21 L696.03,504.83 L696.53,504.41 L698.88,502.24 L699.26,501.85 L699.62,501.44 L702.06,498.37 L702.55,497.65 L705.00,493.62 L705.33,493.02 L707.73,488.03 L707.94,487.52 L710.24,481.58 L710.39,481.16 L712.55,474.29 L712.65,473.94 L714.69,466.05 L714.71,465.95 L751.90,337.05 L752.06,336.35 L752.15,335.63 L752.17,334.90 L751.95,327.80 L751.90,327.10 L751.77,326.41 L751.57,325.73 L751.31,325.07 L750.98,324.45 L702.23,242.13 L701.87,241.58 L701.46,241.07 L701.00,240.60 L700.50,240.17 L699.96,239.79 L699.39,239.46 L698.79,239.19 L698.16,238.98 L697.52,238.82 L696.87,238.73 L696.21,238.70 L588.99,238.70Z" fill="#8cada9" stroke="#223734" stroke-width="1.3"/>
<path d="M537.54,326.30 L537.34,326.67 L537.22,326.97 L537.13,327.28 L537.07,327.60 L537.04,328.01 L536.83,334.92 L536.84,335.35 L536.88,335.68 L536.98,336.10 L574.14,464.93 L574.18,465.07 L576.22,472.94 L576.29,473.19 L578.42,479.96 L578.53,480.27 L580.77,486.08 L580.93,486.45 L583.26,491.29 L583.50,491.73 L585.84,495.58 L586.20,496.10 L588.52,499.02 L588.72,499.27 L588.95,499.50 L591.18,501.56 L591.48,501.81 L591.80,502.03 L593.86,503.31 L594.25,503.53 L594.66,503.70 L596.60,504.39 L597.06,504.52 L597.53,504.60 L599.93,504.87 L600.50,504.90 L684.70,504.90 L685.27,504.87 L687.67,504.60 L688.14,504.52 L688.60,504.39 L690.54,503.70 L690.95,503.53 L691.34,503.31 L693.40,502.03 L693.72,501.81 L694.02,501.56 L696.25,499.50 L696.48,499.27 L696.68,499.02 L699.00,496.10 L699.36,495.58 L701.70,491.73 L701.94,491.29 L704.27,486.45 L704.43,486.08 L706.67,480.27 L706.78,479.96 L708.91,473.19 L708.98,472.94 L711.02,465.07 L711.06,464.93 L748.22,336.10 L748.32,335.68 L748.36,335.35 L748.37,334.92 L748.16,328.01 L748.13,327.60 L748.07,327.28 L747.98,326.97 L747.86,326.67 L747.66,326.30 L703.66,252.00 L581.54,252.00 L537.54,326.30Z" fill="none" stroke="#223734" stroke-width="1.2"/>
<path d="M578.67,463.65 L578.73,463.86 L580.75,471.70 L580.79,471.84 L582.88,478.48 L582.94,478.64 L585.12,484.30 L585.21,484.50 L587.44,489.15 L587.57,489.39 L589.78,493.01 L589.97,493.29 L592.14,496.03 L592.17,496.07 L592.21,496.11 L594.29,498.03 L594.33,498.07 L594.38,498.10 L596.23,499.25 L596.29,499.29 L596.35,499.31 L598.05,499.91 L598.11,499.93 L598.18,499.94 L600.32,500.18 L600.63,500.20 L684.57,500.20 L684.88,500.18 L687.02,499.94 L687.09,499.93 L687.15,499.91 L688.85,499.31 L688.91,499.29 L688.97,499.25 L690.82,498.10 L690.87,498.07 L690.91,498.03 L692.99,496.11 L693.03,496.07 L693.06,496.03 L695.23,493.29 L695.42,493.01 L697.63,489.39 L697.76,489.15 L699.99,484.50 L700.08,484.30 L702.26,478.64 L702.32,478.48 L704.41,471.84 L704.45,471.70 L706.47,463.86 L706.53,463.65 L743.66,334.92 L743.47,328.45 L698.20,252.00 L587.00,252.00 L541.73,328.45 L541.54,334.92 L578.67,463.65Z" fill="none" stroke="#223734" stroke-width="1.2"/>
<path d="M583.68,462.25 L583.75,462.53 L585.77,470.34 L585.77,470.34 L587.82,476.84 L587.82,476.85 L589.94,482.33 L589.94,482.34 L592.07,486.78 L592.08,486.80 L594.14,490.18 L594.15,490.19 L596.00,492.53 L597.50,493.92 L598.56,494.58 L599.29,494.83 L600.76,495.00 L600.77,495.00 L684.43,495.00 L684.44,495.00 L685.91,494.83 L686.64,494.58 L687.70,493.92 L689.20,492.53 L691.05,490.19 L691.06,490.18 L693.12,486.80 L693.13,486.78 L695.26,482.34 L695.26,482.33 L697.38,476.85 L697.38,476.84 L699.43,470.34 L699.43,470.34 L701.45,462.53 L701.52,462.25 L738.44,334.27 L738.31,329.94 L692.39,252.40 L592.81,252.40 L546.89,329.94 L546.76,334.27 L583.68,462.25Z" fill="none" stroke="#223734" stroke-width="1.2"/>
<path d="M555.41,327.91 L554.84,329.00 L554.39,330.13 L554.05,331.31 L553.83,332.51 L553.74,333.73 L553.77,334.95 L553.93,336.16 L554.21,337.35 L589.73,460.50 L589.75,460.59 L589.83,460.87 L589.85,460.95 L591.75,468.30 L591.92,468.91 L593.65,474.39 L593.90,475.12 L594.37,476.33 L594.86,477.42 L595.46,478.47 L596.15,479.44 L596.94,480.35 L597.82,481.17 L598.78,481.90 L599.80,482.53 L600.88,483.05 L602.01,483.46 L603.18,483.76 L604.36,483.94 L605.56,484.00 L679.64,484.00 L680.84,483.94 L682.02,483.76 L683.19,483.46 L684.32,483.05 L685.40,482.53 L686.42,481.90 L687.38,481.17 L688.26,480.35 L689.05,479.44 L689.74,478.47 L690.34,477.42 L690.83,476.33 L691.30,475.12 L691.55,474.39 L693.28,468.91 L693.45,468.30 L695.35,460.95 L695.37,460.87 L695.45,460.59 L695.47,460.50 L730.99,337.35 L731.27,336.16 L731.43,334.95 L731.46,333.73 L731.37,332.51 L731.15,331.31 L730.81,330.13 L730.36,329.00 L729.79,327.91 L692.29,264.59 L691.66,263.64 L690.96,262.76 L690.17,261.95 L689.31,261.22 L688.39,260.57 L687.41,260.01 L686.38,259.54 L685.31,259.18 L684.21,258.91 L683.09,258.75 L681.96,258.70 L603.24,258.70 L602.11,258.75 L600.99,258.91 L599.89,259.18 L598.82,259.54 L597.79,260.01 L596.81,260.57 L595.89,261.22 L595.03,261.95 L594.24,262.76 L593.54,263.64 L592.91,264.59 L555.41,327.91Z" fill="#89aaa7" stroke="#223734" stroke-width="1.25"/>
<line x1="596.00" y1="242.80" x2="690.00" y2="242.80" stroke="#223734" stroke-width="1.2"/>
<line x1="596.00" y1="252.50" x2="690.00" y2="252.50" stroke="#223734" stroke-width="1.2"/>
<line x1="568.00" y1="262.00" x2="584.00" y2="276.00" stroke="#223734" stroke-width="2.2"/>
<line x1="568.00" y1="262.00" x2="584.00" y2="276.00" stroke="#b8c8c4" stroke-width="1"/>
<line x1="718.00" y1="262.00" x2="702.00" y2="276.00" stroke="#223734" stroke-width="2.2"/>
<line x1="718.00" y1="262.00" x2="702.00" y2="276.00" stroke="#b8c8c4" stroke-width="1"/>
<line x1="546.00" y1="318.00" x2="560.00" y2="324.00" stroke="#223734" stroke-width="2.2"/>
<line x1="546.00" y1="318.00" x2="560.00" y2="324.00" stroke="#b8c8c4" stroke-width="1"/>
<line x1="740.00" y1="318.00" x2="726.00" y2="324.00" stroke="#223734" stroke-width="2.2"/>
<line x1="740.00" y1="318.00" x2="726.00" y2="324.00" stroke="#b8c8c4" stroke-width="1"/>
<line x1="552.00" y1="380.00" x2="566.00" y2="376.00" stroke="#223734" stroke-width="2.2"/>
<line x1="552.00" y1="380.00" x2="566.00" y2="376.00" stroke="#b8c8c4" stroke-width="1"/>
<line x1="734.00" y1="380.00" x2="720.00" y2="376.00" stroke="#223734" stroke-width="2.2"/>
<line x1="734.00" y1="380.00" x2="720.00" y2="376.00" stroke="#b8c8c4" stroke-width="1"/>
<line x1="568.00" y1="457.00" x2="582.00" y2="452.00" stroke="#223734" stroke-width="2.2"/>
<line x1="568.00" y1="457.00" x2="582.00" y2="452.00" stroke="#b8c8c4" stroke-width="1"/>
<line x1="718.00" y1="457.00" x2="704.00" y2="452.00" stroke="#223734" stroke-width="2.2"/>
<line x1="718.00" y1="457.00" x2="704.00" y2="452.00" stroke="#b8c8c4" stroke-width="1"/>
<line x1="609.50" y1="240.00" x2="609.50" y2="252.00" stroke="#223734" stroke-width="2.2"/>
<line x1="676.50" y1="240.00" x2="676.50" y2="252.00" stroke="#223734" stroke-width="2.2"/>
<path d="M606,480 L680,480 L680,505 L606,505 Z" fill="#8cada9" stroke="#223734" stroke-width="1.2"/>
<line x1="606.00" y1="490.00" x2="680.00" y2="490.00" stroke="#223734" stroke-width="1.2"/>
<line x1="606.00" y1="497.00" x2="680.00" y2="497.00" stroke="#223734" stroke-width="1.2"/>
<rect x="615.50" y="489.00" width="4.00" height="16.00" rx="1" fill="#cdd8d4" stroke="#223734" stroke-width="0.8"/>
<rect x="666.50" y="489.00" width="4.00" height="16.00" rx="1" fill="#cdd8d4" stroke="#223734" stroke-width="0.8"/>
<rect x="622.50" y="478.50" width="41.50" height="9.75" rx="4.8" fill="#cdd8d4" stroke="#223734" stroke-width="1.2"/>
<circle cx="642.80" cy="332.00" r="77.80" fill="#cdd8d4" stroke="#223734" stroke-width="1.3"/>
<circle cx="642.80" cy="332.00" r="74.70" fill="none" stroke="#223734" stroke-width="1.1"/>
<path d="M653.16,278.70 L653.10,279.14 L653.08,279.59 L653.10,280.04 L653.17,280.48 L653.29,280.92 L653.45,281.34 L653.64,281.74 L653.88,282.12 L654.15,282.48 L654.46,282.80 L654.80,283.10 L655.17,283.36 L655.56,283.58 L655.97,283.76 L656.39,283.90 L657.09,284.09 L657.19,284.12 L659.44,284.85 L659.54,284.89 L661.75,285.73 L661.85,285.77 L664.01,286.72 L664.11,286.77 L666.22,287.83 L666.32,287.88 L668.38,289.04 L668.47,289.10 L670.47,290.36 L670.56,290.42 L672.50,291.78 L672.59,291.84 L674.45,293.29 L674.53,293.36 L676.32,294.90 L676.40,294.98 L678.12,296.61 L678.19,296.68 L679.82,298.40 L679.90,298.48 L681.44,300.27 L681.51,300.35 L682.96,302.21 L683.02,302.30 L684.38,304.24 L684.44,304.33 L685.70,306.33 L685.76,306.42 L686.92,308.48 L686.97,308.58 L688.03,310.69 L688.08,310.79 L689.03,312.95 L689.07,313.05 L689.91,315.26 L689.95,315.36 L690.68,317.61 L690.71,317.71 L690.90,318.41 L691.04,318.83 L691.22,319.24 L691.44,319.63 L691.70,320.00 L692.00,320.34 L692.32,320.65 L692.68,320.92 L693.06,321.16 L693.46,321.35 L693.88,321.51 L694.32,321.63 L694.76,321.70 L695.21,321.72 L695.66,321.70 L696.10,321.64 L705.45,319.82 L705.87,319.72 L706.28,319.57 L706.68,319.39 L707.05,319.17 L707.40,318.92 L707.73,318.63 L708.03,318.31 L708.29,317.96 L708.52,317.59 L708.71,317.20 L708.87,316.80 L708.98,316.38 L709.06,315.95 L709.09,315.51 L709.08,315.08 L709.03,314.65 L708.93,314.22 L708.45,312.46 L708.39,312.25 L707.41,309.24 L707.33,309.03 L706.20,306.07 L706.12,305.87 L704.84,302.97 L704.75,302.77 L703.33,299.94 L703.23,299.74 L701.67,296.99 L701.56,296.80 L699.87,294.12 L699.75,293.94 L697.93,291.35 L697.80,291.17 L695.85,288.67 L695.71,288.50 L693.64,286.10 L693.50,285.94 L691.31,283.64 L691.16,283.49 L688.86,281.30 L688.70,281.16 L686.30,279.09 L686.13,278.95 L683.63,277.00 L683.45,276.87 L680.86,275.05 L680.68,274.93 L678.00,273.24 L677.81,273.13 L675.06,271.57 L674.86,271.47 L672.03,270.05 L671.83,269.96 L668.93,268.68 L668.73,268.60 L665.77,267.47 L665.56,267.39 L662.55,266.41 L662.34,266.35 L660.58,265.87 L660.15,265.77 L659.72,265.72 L659.29,265.71 L658.85,265.74 L658.42,265.82 L658.00,265.93 L657.60,266.09 L657.21,266.28 L656.84,266.51 L656.49,266.77 L656.17,267.07 L655.88,267.40 L655.63,267.75 L655.41,268.12 L655.23,268.52 L655.08,268.93 L654.98,269.35 L653.16,278.70Z" fill="#d3dcd9" stroke="#223734" stroke-width="1.2"/>
<path d="M656.39,380.10 L655.97,380.24 L655.56,380.42 L655.17,380.64 L654.80,380.90 L654.46,381.20 L654.15,381.52 L653.88,381.88 L653.64,382.26 L653.45,382.66 L653.29,383.08 L653.17,383.52 L653.10,383.96 L653.08,384.41 L653.10,384.86 L653.16,385.30 L654.98,394.65 L655.08,395.07 L655.23,395.48 L655.41,395.88 L655.63,396.25 L655.88,396.60 L656.17,396.93 L656.49,397.23 L656.84,397.49 L657.21,397.72 L657.60,397.91 L658.00,398.07 L658.42,398.18 L658.85,398.26 L659.29,398.29 L659.72,398.28 L660.15,398.23 L660.58,398.13 L662.34,397.65 L662.55,397.59 L665.56,396.61 L665.77,396.53 L668.73,395.40 L668.93,395.32 L671.83,394.04 L672.03,393.95 L674.86,392.53 L675.06,392.43 L677.81,390.87 L678.00,390.76 L680.68,389.07 L680.86,388.95 L683.45,387.13 L683.63,387.00 L686.13,385.05 L686.30,384.91 L688.70,382.84 L688.86,382.70 L691.16,380.51 L691.31,380.36 L693.50,378.06 L693.64,377.90 L695.71,375.50 L695.85,375.33 L697.80,372.83 L697.93,372.65 L699.75,370.06 L699.87,369.88 L701.56,367.20 L701.67,367.01 L703.23,364.26 L703.33,364.06 L704.75,361.23 L704.84,361.03 L706.12,358.13 L706.20,357.93 L707.33,354.97 L707.41,354.76 L708.39,351.75 L708.45,351.54 L708.93,349.78 L709.03,349.35 L709.08,348.92 L709.09,348.49 L709.06,348.05 L708.98,347.62 L708.87,347.20 L708.71,346.80 L708.52,346.41 L708.29,346.04 L708.03,345.69 L707.73,345.37 L707.40,345.08 L707.05,344.83 L706.68,344.61 L706.28,344.43 L705.87,344.28 L705.45,344.18 L696.10,342.36 L695.66,342.30 L695.21,342.28 L694.76,342.30 L694.32,342.37 L693.88,342.49 L693.46,342.65 L693.06,342.84 L692.68,343.08 L692.32,343.35 L692.00,343.66 L691.70,344.00 L691.44,344.37 L691.22,344.76 L691.04,345.17 L690.90,345.59 L690.71,346.29 L690.68,346.39 L689.95,348.64 L689.91,348.74 L689.07,350.95 L689.03,351.05 L688.08,353.21 L688.03,353.31 L686.97,355.42 L686.92,355.52 L685.76,357.58 L685.70,357.67 L684.44,359.67 L684.38,359.76 L683.02,361.70 L682.96,361.79 L681.51,363.65 L681.44,363.73 L679.90,365.52 L679.82,365.60 L678.19,367.32 L678.12,367.39 L676.40,369.02 L676.32,369.10 L674.53,370.64 L674.45,370.71 L672.59,372.16 L672.50,372.22 L670.56,373.58 L670.47,373.64 L668.47,374.90 L668.38,374.96 L666.32,376.12 L666.22,376.17 L664.11,377.23 L664.01,377.28 L661.85,378.23 L661.75,378.27 L659.54,379.11 L659.44,379.15 L657.19,379.88 L657.09,379.91 L656.39,380.10Z" fill="#d3dcd9" stroke="#223734" stroke-width="1.2"/>
<path d="M580.15,344.18 L579.73,344.28 L579.32,344.43 L578.92,344.61 L578.55,344.83 L578.20,345.08 L577.87,345.37 L577.57,345.69 L577.31,346.04 L577.08,346.41 L576.89,346.80 L576.73,347.20 L576.62,347.62 L576.54,348.05 L576.51,348.49 L576.52,348.92 L576.57,349.35 L576.67,349.78 L577.15,351.54 L577.21,351.75 L578.19,354.76 L578.27,354.97 L579.40,357.93 L579.48,358.13 L580.76,361.03 L580.85,361.23 L582.27,364.06 L582.37,364.26 L583.93,367.01 L584.04,367.20 L585.73,369.88 L585.85,370.06 L587.67,372.65 L587.80,372.83 L589.75,375.33 L589.89,375.50 L591.96,377.90 L592.10,378.06 L594.29,380.36 L594.44,380.51 L596.74,382.70 L596.90,382.84 L599.30,384.91 L599.47,385.05 L601.97,387.00 L602.15,387.13 L604.74,388.95 L604.92,389.07 L607.60,390.76 L607.79,390.87 L610.54,392.43 L610.74,392.53 L613.57,393.95 L613.77,394.04 L616.67,395.32 L616.87,395.40 L619.83,396.53 L620.04,396.61 L623.05,397.59 L623.26,397.65 L625.02,398.13 L625.45,398.23 L625.88,398.28 L626.31,398.29 L626.75,398.26 L627.18,398.18 L627.60,398.07 L628.00,397.91 L628.39,397.72 L628.76,397.49 L629.11,397.23 L629.43,396.93 L629.72,396.60 L629.97,396.25 L630.19,395.88 L630.37,395.48 L630.52,395.07 L630.62,394.65 L632.44,385.30 L632.50,384.86 L632.52,384.41 L632.50,383.96 L632.43,383.52 L632.31,383.08 L632.15,382.66 L631.96,382.26 L631.72,381.88 L631.45,381.52 L631.14,381.20 L630.80,380.90 L630.43,380.64 L630.04,380.42 L629.63,380.24 L629.21,380.10 L628.51,379.91 L628.41,379.88 L626.16,379.15 L626.06,379.11 L623.85,378.27 L623.75,378.23 L621.59,377.28 L621.49,377.23 L619.38,376.17 L619.28,376.12 L617.22,374.96 L617.13,374.90 L615.13,373.64 L615.04,373.58 L613.10,372.22 L613.01,372.16 L611.15,370.71 L611.07,370.64 L609.28,369.10 L609.20,369.02 L607.48,367.39 L607.41,367.32 L605.78,365.60 L605.70,365.52 L604.16,363.73 L604.09,363.65 L602.64,361.79 L602.58,361.70 L601.22,359.76 L601.16,359.67 L599.90,357.67 L599.84,357.58 L598.68,355.52 L598.63,355.42 L597.57,353.31 L597.52,353.21 L596.57,351.05 L596.53,350.95 L595.69,348.74 L595.65,348.64 L594.92,346.39 L594.89,346.29 L594.70,345.59 L594.56,345.17 L594.38,344.76 L594.16,344.37 L593.90,344.00 L593.60,343.66 L593.28,343.35 L592.92,343.08 L592.54,342.84 L592.14,342.65 L591.72,342.49 L591.28,342.37 L590.84,342.30 L590.39,342.28 L589.94,342.30 L589.50,342.36 L580.15,344.18Z" fill="#d3dcd9" stroke="#223734" stroke-width="1.2"/>
<path d="M576.67,314.22 L576.57,314.65 L576.52,315.08 L576.51,315.51 L576.54,315.95 L576.62,316.38 L576.73,316.80 L576.89,317.20 L577.08,317.59 L577.31,317.96 L577.57,318.31 L577.87,318.63 L578.20,318.92 L578.55,319.17 L578.92,319.39 L579.32,319.57 L579.73,319.72 L580.15,319.82 L589.50,321.64 L589.94,321.70 L590.39,321.72 L590.84,321.70 L591.28,321.63 L591.72,321.51 L592.14,321.35 L592.54,321.16 L592.92,320.92 L593.28,320.65 L593.60,320.34 L593.90,320.00 L594.16,319.63 L594.38,319.24 L594.56,318.83 L594.70,318.41 L594.89,317.71 L594.92,317.61 L595.65,315.36 L595.69,315.26 L596.53,313.05 L596.57,312.95 L597.52,310.79 L597.57,310.69 L598.63,308.58 L598.68,308.48 L599.84,306.42 L599.90,306.33 L601.16,304.33 L601.22,304.24 L602.58,302.30 L602.64,302.21 L604.09,300.35 L604.16,300.27 L605.70,298.48 L605.78,298.40 L607.41,296.68 L607.48,296.61 L609.20,294.98 L609.28,294.90 L611.07,293.36 L611.15,293.29 L613.01,291.84 L613.10,291.78 L615.04,290.42 L615.13,290.36 L617.13,289.10 L617.22,289.04 L619.28,287.88 L619.38,287.83 L621.49,286.77 L621.59,286.72 L623.75,285.77 L623.85,285.73 L626.06,284.89 L626.16,284.85 L628.41,284.12 L628.51,284.09 L629.21,283.90 L629.63,283.76 L630.04,283.58 L630.43,283.36 L630.80,283.10 L631.14,282.80 L631.45,282.48 L631.72,282.12 L631.96,281.74 L632.15,281.34 L632.31,280.92 L632.43,280.48 L632.50,280.04 L632.52,279.59 L632.50,279.14 L632.44,278.70 L630.62,269.35 L630.52,268.93 L630.37,268.52 L630.19,268.12 L629.97,267.75 L629.72,267.40 L629.43,267.07 L629.11,266.77 L628.76,266.51 L628.39,266.28 L628.00,266.09 L627.60,265.93 L627.18,265.82 L626.75,265.74 L626.31,265.71 L625.88,265.72 L625.45,265.77 L625.02,265.87 L623.26,266.35 L623.05,266.41 L620.04,267.39 L619.83,267.47 L616.87,268.60 L616.67,268.68 L613.77,269.96 L613.57,270.05 L610.74,271.47 L610.54,271.57 L607.79,273.13 L607.60,273.24 L604.92,274.93 L604.74,275.05 L602.15,276.87 L601.97,277.00 L599.47,278.95 L599.30,279.09 L596.90,281.16 L596.74,281.30 L594.44,283.49 L594.29,283.64 L592.10,285.94 L591.96,286.10 L589.89,288.50 L589.75,288.67 L587.80,291.17 L587.67,291.35 L585.85,293.94 L585.73,294.12 L584.04,296.80 L583.93,296.99 L582.37,299.74 L582.27,299.94 L580.85,302.77 L580.76,302.97 L579.48,305.87 L579.40,306.07 L578.27,309.03 L578.19,309.24 L577.21,312.25 L577.15,312.46 L576.67,314.22Z" fill="#d3dcd9" stroke="#223734" stroke-width="1.2"/>
<circle cx="642.8" cy="332" r="59" fill="none" stroke="#6f8481" stroke-width="1.1" stroke-dasharray="5 5"/>
<circle cx="701.80" cy="332.00" r="5.60" fill="#cdd8d4" stroke="#223734" stroke-width="1.2"/>
<circle cx="642.80" cy="391.00" r="5.60" fill="#cdd8d4" stroke="#223734" stroke-width="1.2"/>
<circle cx="583.80" cy="332.00" r="5.60" fill="#cdd8d4" stroke="#223734" stroke-width="1.2"/>
<circle cx="642.80" cy="273.00" r="5.60" fill="#cdd8d4" stroke="#223734" stroke-width="1.2"/>
<circle cx="642.80" cy="332.00" r="41.50" fill="none" stroke="#223734" stroke-width="1.15"/>
<circle cx="642.80" cy="332.00" r="38.20" fill="none" stroke="#223734" stroke-width="1.15"/>
<circle cx="642.80" cy="332.00" r="30.70" fill="none" stroke="#223734" stroke-width="1.15"/>
<circle cx="642.80" cy="332.00" r="26.70" fill="none" stroke="#223734" stroke-width="1.15"/>
<circle cx="642.80" cy="332.00" r="23.70" fill="none" stroke="#223734" stroke-width="1.15"/>
<circle cx="642.80" cy="332.00" r="20.50" fill="none" stroke="#223734" stroke-width="1.15"/>
<circle cx="642.80" cy="332.00" r="14.40" fill="none" stroke="#223734" stroke-width="1.15"/>
<circle cx="642.80" cy="332.00" r="11.90" fill="none" stroke="#223734" stroke-width="1.15"/>
<circle cx="642.80" cy="332.00" r="10.00" fill="none" stroke="#223734" stroke-width="1.15"/>
<line x1="657.29" y1="335.88" x2="662.12" y2="337.18" stroke="#223734" stroke-width="1.2"/>
<line x1="653.41" y1="342.61" x2="656.94" y2="346.14" stroke="#223734" stroke-width="1.2"/>
<line x1="646.68" y1="346.49" x2="647.98" y2="351.32" stroke="#223734" stroke-width="1.2"/>
<line x1="638.92" y1="346.49" x2="637.62" y2="351.32" stroke="#223734" stroke-width="1.2"/>
<line x1="632.19" y1="342.61" x2="628.66" y2="346.14" stroke="#223734" stroke-width="1.2"/>
<line x1="628.31" y1="335.88" x2="623.48" y2="337.18" stroke="#223734" stroke-width="1.2"/>
<line x1="628.31" y1="328.12" x2="623.48" y2="326.82" stroke="#223734" stroke-width="1.2"/>
<line x1="632.19" y1="321.39" x2="628.66" y2="317.86" stroke="#223734" stroke-width="1.2"/>
<line x1="638.92" y1="317.51" x2="637.62" y2="312.68" stroke="#223734" stroke-width="1.2"/>
<line x1="646.68" y1="317.51" x2="647.98" y2="312.68" stroke="#223734" stroke-width="1.2"/>
<line x1="653.41" y1="321.39" x2="656.94" y2="317.86" stroke="#223734" stroke-width="1.2"/>
<line x1="657.29" y1="328.12" x2="662.12" y2="326.82" stroke="#223734" stroke-width="1.2"/>
<line x1="562.80" y1="332.00" x2="722.80" y2="332.00" stroke="#5d7471" stroke-width="1" stroke-dasharray="10 4 3 4"/>
<line x1="642.80" y1="252.00" x2="642.80" y2="422.00" stroke="#5d7471" stroke-width="1" stroke-dasharray="10 4 3 4"/>
<line x1="564.00" y1="259.00" x2="700.00" y2="384.00" stroke="#23705a" stroke-width="0.8"/>
<polygon points="589.52,282.83 597.03,286.49 593.77,290.02" fill="#23705a"/>
<polygon points="696.08,381.17 688.57,377.51 691.83,373.98" fill="#23705a"/>
<line x1="608.39" y1="282.85" x2="677.21" y2="381.15" stroke="#23705a" stroke-width="0.8"/>
<polygon points="611.25,286.95 617.81,292.12 613.88,294.88" fill="#23705a"/>
<polygon points="674.35,377.05 667.79,371.88 671.72,369.12" fill="#23705a"/>
<line x1="612.00" y1="440.50" x2="674.00" y2="440.50" stroke="#4d6562" stroke-width="1" stroke-dasharray="6 3"/>
<line x1="643.00" y1="410.00" x2="643.00" y2="470.00" stroke="#4d6562" stroke-width="1" stroke-dasharray="6 3"/>
<circle cx="592.40" cy="249.30" r="10.80" fill="#cdd8d4" stroke="#506663" stroke-width="0.8"/>
<polygon points="601.00,249.30 596.70,256.75 588.10,256.75 583.80,249.30 588.10,241.85 596.70,241.85" fill="#cdd8d4" stroke="#223734" stroke-width="1.25"/>
<circle cx="592.40" cy="249.30" r="4.30" fill="#cdd8d4" stroke="#223734" stroke-width="1.2"/>
<circle cx="692.40" cy="249.30" r="10.80" fill="#cdd8d4" stroke="#506663" stroke-width="0.8"/>
<polygon points="701.00,249.30 696.70,256.75 688.10,256.75 683.80,249.30 688.10,241.85 696.70,241.85" fill="#cdd8d4" stroke="#223734" stroke-width="1.25"/>
<circle cx="692.40" cy="249.30" r="4.30" fill="#cdd8d4" stroke="#223734" stroke-width="1.2"/>
<circle cx="543.70" cy="331.30" r="10.80" fill="#cdd8d4" stroke="#506663" stroke-width="0.8"/>
<polygon points="552.30,331.30 548.00,338.75 539.40,338.75 535.10,331.30 539.40,323.85 548.00,323.85" fill="#cdd8d4" stroke="#223734" stroke-width="1.25"/>
<circle cx="543.70" cy="331.30" r="4.30" fill="#cdd8d4" stroke="#223734" stroke-width="1.2"/>
<circle cx="741.70" cy="331.30" r="10.80" fill="#cdd8d4" stroke="#506663" stroke-width="0.8"/>
<polygon points="750.30,331.30 746.00,338.75 737.40,338.75 733.10,331.30 737.40,323.85 746.00,323.85" fill="#cdd8d4" stroke="#223734" stroke-width="1.25"/>
<circle cx="741.70" cy="331.30" r="4.30" fill="#cdd8d4" stroke="#223734" stroke-width="1.2"/>
<circle cx="562.40" cy="414.00" r="10.80" fill="#cdd8d4" stroke="#506663" stroke-width="0.8"/>
<polygon points="571.00,414.00 566.70,421.45 558.10,421.45 553.80,414.00 558.10,406.55 566.70,406.55" fill="#cdd8d4" stroke="#223734" stroke-width="1.25"/>
<circle cx="562.40" cy="414.00" r="4.30" fill="#cdd8d4" stroke="#223734" stroke-width="1.2"/>
<circle cx="721.75" cy="413.10" r="10.80" fill="#cdd8d4" stroke="#506663" stroke-width="0.8"/>
<polygon points="730.35,413.10 726.05,420.55 717.45,420.55 713.15,413.10 717.45,405.65 726.05,405.65" fill="#cdd8d4" stroke="#223734" stroke-width="1.25"/>
<circle cx="721.75" cy="413.10" r="4.30" fill="#cdd8d4" stroke="#223734" stroke-width="1.2"/>
<rect x="594.70" y="490.10" width="19.00" height="19.00" rx="0" fill="#cdd8d4" stroke="#223734" stroke-width="1.1"/>
<polygon points="613.00,499.60 608.60,507.22 599.80,507.22 595.40,499.60 599.80,491.98 608.60,491.98" fill="#cdd8d4" stroke="#223734" stroke-width="1.25"/>
<circle cx="604.20" cy="499.60" r="4.30" fill="#cdd8d4" stroke="#223734" stroke-width="1.2"/>
<rect x="671.50" y="490.10" width="19.00" height="19.00" rx="0" fill="#cdd8d4" stroke="#223734" stroke-width="1.1"/>
<polygon points="689.80,499.60 685.40,507.22 676.60,507.22 672.20,499.60 676.60,491.98 685.40,491.98" fill="#cdd8d4" stroke="#223734" stroke-width="1.25"/>
<circle cx="681.00" cy="499.60" r="4.30" fill="#cdd8d4" stroke="#223734" stroke-width="1.2"/>
<polygon points="630,509.5 656,509.5 643,502" fill="#cdd8d4" stroke="#223734" stroke-width="1.2"/>
<polygon points="630,234.4 657,234.4 643.5,245" fill="#cdd8d4" stroke="#223734" stroke-width="1.2"/>
<line x1="62.50" y1="188.00" x2="62.50" y2="300.00" stroke="#7d918c" stroke-width="1"/>
<line x1="289.50" y1="188.00" x2="289.50" y2="300.00" stroke="#7d918c" stroke-width="1"/>
<line x1="62.90" y1="199.50" x2="289.00" y2="199.50" stroke="#7d918c" stroke-width="1"/>
<polygon points="62.90,199.50 71.90,196.90 71.90,202.10" fill="#23705a"/>
<polygon points="289.00,199.50 280.00,202.10 280.00,196.90" fill="#23705a"/>
<text x="179.8" y="196.8" font-size="14.2" text-anchor="middle" textLength="19.2" lengthAdjust="spacingAndGlyphs">216</text>
<line x1="8.75" y1="339.50" x2="80.00" y2="339.50" stroke="#7d918c" stroke-width="1"/>
<line x1="16.50" y1="339.50" x2="16.50" y2="498.50" stroke="#7d918c" stroke-width="1"/>
<polygon points="16.50,339.50 19.10,348.50 13.90,348.50" fill="#23705a"/>
<polygon points="16.50,498.50 13.90,489.50 19.10,489.50" fill="#23705a"/>
<line x1="8.75" y1="498.50" x2="118.00" y2="498.50" stroke="#7d918c" stroke-width="1"/>
<text x="12.5" y="418" font-size="14.2" text-anchor="middle" textLength="19" lengthAdjust="spacingAndGlyphs" transform="rotate(-90 12.5 418)">150</text>
<line x1="38.75" y1="350.50" x2="118.00" y2="350.50" stroke="#7d918c" stroke-width="1"/>
<line x1="45.50" y1="350.50" x2="45.50" y2="484.00" stroke="#7d918c" stroke-width="1"/>
<polygon points="45.50,350.50 48.10,359.50 42.90,359.50" fill="#23705a"/>
<polygon points="45.50,484.00 42.90,475.00 48.10,475.00" fill="#23705a"/>
<line x1="38.75" y1="484.50" x2="118.00" y2="484.50" stroke="#7d918c" stroke-width="1"/>
<text x="42" y="417.5" font-size="14.2" text-anchor="middle" textLength="20" lengthAdjust="spacingAndGlyphs" transform="rotate(-90 42 417.5)">128</text>
<line x1="63.75" y1="374.50" x2="135.00" y2="374.50" stroke="#7d918c" stroke-width="1"/>
<line x1="71.50" y1="374.00" x2="71.50" y2="472.00" stroke="#7d918c" stroke-width="1"/>
<polygon points="71.50,374.00 74.10,383.00 68.90,383.00" fill="#23705a"/>
<polygon points="71.50,472.00 68.90,463.00 74.10,463.00" fill="#23705a"/>
<line x1="63.75" y1="472.50" x2="135.00" y2="472.50" stroke="#7d918c" stroke-width="1"/>
<text x="67.5" y="421" font-size="14.2" text-anchor="middle" textLength="13.5" lengthAdjust="spacingAndGlyphs" transform="rotate(-90 67.5 421)">96</text>
<line x1="142.50" y1="500.00" x2="142.50" y2="569.00" stroke="#7d918c" stroke-width="1"/>
<line x1="218.50" y1="500.00" x2="218.50" y2="569.00" stroke="#7d918c" stroke-width="1"/>
<line x1="142.50" y1="560.50" x2="218.50" y2="560.50" stroke="#7d918c" stroke-width="1"/>
<polygon points="142.50,560.30 151.50,557.70 151.50,562.90" fill="#23705a"/>
<polygon points="218.50,560.30 209.50,562.90 209.50,557.70" fill="#23705a"/>
<text x="182.5" y="557" font-size="14.2" text-anchor="middle" textLength="22" lengthAdjust="spacingAndGlyphs">71.5</text>
<line x1="129.50" y1="484.00" x2="129.50" y2="595.00" stroke="#7d918c" stroke-width="1"/>
<line x1="232.50" y1="484.00" x2="232.50" y2="595.00" stroke="#7d918c" stroke-width="1"/>
<line x1="129.00" y1="586.50" x2="232.50" y2="586.50" stroke="#7d918c" stroke-width="1"/>
<polygon points="129.00,586.50 138.00,583.90 138.00,589.10" fill="#23705a"/>
<polygon points="232.50,586.50 223.50,589.10 223.50,583.90" fill="#23705a"/>
<text x="177.5" y="581" font-size="14.2" text-anchor="middle" textLength="13.5" lengthAdjust="spacingAndGlyphs">98</text>
<line x1="116.50" y1="500.00" x2="116.50" y2="620.00" stroke="#7d918c" stroke-width="1"/>
<line x1="243.50" y1="500.00" x2="243.50" y2="620.00" stroke="#7d918c" stroke-width="1"/>
<line x1="116.50" y1="611.50" x2="243.50" y2="611.50" stroke="#7d918c" stroke-width="1"/>
<polygon points="116.50,611.50 125.50,608.90 125.50,614.10" fill="#23705a"/>
<polygon points="243.50,611.50 234.50,614.10 234.50,608.90" fill="#23705a"/>
<text x="181.2" y="606.8" font-size="14.2" text-anchor="middle" textLength="18.5" lengthAdjust="spacingAndGlyphs">120</text>
<line x1="220.00" y1="375.00" x2="284.00" y2="397.00" stroke="#7d918c" stroke-width="1"/>
<line x1="284.00" y1="397.50" x2="330.00" y2="397.50" stroke="#7d918c" stroke-width="1"/>
<text x="290" y="393" font-size="14.2" text-anchor="start" textLength="29" lengthAdjust="spacingAndGlyphs">4xM8</text>
<line x1="195.00" y1="438.00" x2="268.00" y2="427.40" stroke="#7d918c" stroke-width="1"/>
<line x1="268.00" y1="427.50" x2="375.00" y2="427.50" stroke="#7d918c" stroke-width="1"/>
<text x="278.6" y="423.6" font-size="14.2" text-anchor="start" textLength="93.8" lengthAdjust="spacingAndGlyphs">A 35x31 DIN 5482</text>
<line x1="268.00" y1="444.50" x2="349.00" y2="444.50" stroke="#7d918c" stroke-width="1"/>
<line x1="254.00" y1="472.50" x2="307.00" y2="472.50" stroke="#7d918c" stroke-width="1"/>
<line x1="250.00" y1="484.50" x2="349.00" y2="484.50" stroke="#7d918c" stroke-width="1"/>
<line x1="299.50" y1="444.40" x2="299.50" y2="472.30" stroke="#7d918c" stroke-width="1"/>
<polygon points="299.50,444.40 302.10,453.40 296.90,453.40" fill="#23705a"/>
<polygon points="299.50,472.30 296.90,463.30 302.10,463.30" fill="#23705a"/>
<text x="295" y="458" font-size="14.2" text-anchor="middle" textLength="28" lengthAdjust="spacingAndGlyphs" transform="rotate(-90 295 458)">32.35</text>
<line x1="340.50" y1="444.40" x2="340.50" y2="484.20" stroke="#7d918c" stroke-width="1"/>
<polygon points="340.50,444.40 343.10,453.40 337.90,453.40" fill="#23705a"/>
<polygon points="340.50,484.20 337.90,475.20 343.10,475.20" fill="#23705a"/>
<text x="337" y="462" font-size="14.2" text-anchor="middle" textLength="24" lengthAdjust="spacingAndGlyphs" transform="rotate(-90 337 462)">42.4</text>
<line x1="233.40" y1="485.25" x2="270.00" y2="532.40" stroke="#7d918c" stroke-width="1"/>
<line x1="270.00" y1="532.50" x2="324.00" y2="532.50" stroke="#7d918c" stroke-width="1"/>
<text x="283.6" y="527" font-size="14.2" text-anchor="start" textLength="35.4" lengthAdjust="spacingAndGlyphs">4xM10</text>
<line x1="388.50" y1="188.75" x2="388.50" y2="262.00" stroke="#7d918c" stroke-width="1"/>
<line x1="481.50" y1="188.75" x2="481.50" y2="262.00" stroke="#7d918c" stroke-width="1"/>
<line x1="388.00" y1="195.50" x2="481.25" y2="195.50" stroke="#7d918c" stroke-width="1"/>
<polygon points="388.00,195.50 397.00,192.90 397.00,198.10" fill="#23705a"/>
<polygon points="481.25,195.50 472.25,198.10 472.25,192.90" fill="#23705a"/>
<text x="432" y="191.25" font-size="14.2" text-anchor="middle" textLength="22.5" lengthAdjust="spacingAndGlyphs">89.4</text>
<line x1="384.50" y1="236.00" x2="384.50" y2="300.00" stroke="#7d918c" stroke-width="1"/>
<line x1="353.75" y1="242.50" x2="384.50" y2="242.50" stroke="#7d918c" stroke-width="1"/>
<polygon points="384.50,242.00 375.50,244.60 375.50,239.40" fill="#23705a"/>
<line x1="388.00" y1="242.50" x2="405.00" y2="242.50" stroke="#7d918c" stroke-width="1"/>
<polygon points="388.00,242.00 397.00,239.40 397.00,244.60" fill="#23705a"/>
<text x="362.75" y="237.5" font-size="14.2" text-anchor="middle" textLength="5.5" lengthAdjust="spacingAndGlyphs">4</text>
<line x1="343.50" y1="252.50" x2="343.50" y2="300.00" stroke="#7d918c" stroke-width="1"/>
<line x1="343.75" y1="260.50" x2="384.50" y2="260.50" stroke="#7d918c" stroke-width="1"/>
<polygon points="343.75,260.50 352.75,257.90 352.75,263.10" fill="#23705a"/>
<polygon points="384.50,260.50 375.50,263.10 375.50,257.90" fill="#23705a"/>
<text x="364.5" y="256" font-size="14.2" text-anchor="middle" textLength="13" lengthAdjust="spacingAndGlyphs">37</text>
<line x1="315.00" y1="289.50" x2="384.00" y2="289.50" stroke="#7d918c" stroke-width="1"/>
<line x1="324.50" y1="289.20" x2="324.50" y2="377.20" stroke="#7d918c" stroke-width="1"/>
<polygon points="324.50,289.20 327.10,298.20 321.90,298.20" fill="#23705a"/>
<polygon points="324.50,377.20 321.90,368.20 327.10,368.20" fill="#23705a"/>
<line x1="315.00" y1="377.50" x2="384.00" y2="377.50" stroke="#7d918c" stroke-width="1"/>
<text x="321" y="333" font-size="14.2" text-anchor="middle" textLength="22" lengthAdjust="spacingAndGlyphs" transform="rotate(-90 321 333)">Ø 82</text>
<line x1="483.00" y1="438.50" x2="529.50" y2="438.50" stroke="#7d918c" stroke-width="1"/>
<line x1="482.50" y1="332.50" x2="529.50" y2="332.50" stroke="#7d918c" stroke-width="1"/>
<line x1="519.50" y1="333.20" x2="519.50" y2="438.40" stroke="#7d918c" stroke-width="1"/>
<polygon points="519.50,333.20 522.10,342.20 516.90,342.20" fill="#23705a"/>
<polygon points="519.50,438.40 516.90,429.40 522.10,429.40" fill="#23705a"/>
<text x="517.5" y="383.5" font-size="14.2" text-anchor="middle" textLength="20" lengthAdjust="spacingAndGlyphs" transform="rotate(-90 517.5 383.5)">102</text>
<line x1="481.50" y1="413.50" x2="516.00" y2="413.50" stroke="#7d918c" stroke-width="1"/>
<line x1="481.50" y1="465.50" x2="516.00" y2="465.50" stroke="#7d918c" stroke-width="1"/>
<line x1="505.50" y1="413.50" x2="505.50" y2="465.40" stroke="#7d918c" stroke-width="1"/>
<polygon points="505.50,413.50 508.10,422.50 502.90,422.50" fill="#23705a"/>
<polygon points="505.50,465.40 502.90,456.40 508.10,456.40" fill="#23705a"/>
<line x1="505.50" y1="465.40" x2="505.50" y2="495.00" stroke="#7d918c" stroke-width="1"/>
<text x="501" y="482.5" font-size="14.2" text-anchor="middle" textLength="22" lengthAdjust="spacingAndGlyphs" transform="rotate(-90 501 482.5)">Ø 51</text>
<line x1="475.50" y1="500.00" x2="475.50" y2="547.00" stroke="#7d918c" stroke-width="1"/>
<line x1="481.50" y1="500.00" x2="481.50" y2="547.00" stroke="#7d918c" stroke-width="1"/>
<line x1="456.00" y1="537.50" x2="475.00" y2="537.50" stroke="#7d918c" stroke-width="1"/>
<polygon points="475.00,537.00 466.00,539.60 466.00,534.40" fill="#23705a"/>
<line x1="481.50" y1="537.50" x2="510.00" y2="537.50" stroke="#7d918c" stroke-width="1"/>
<polygon points="481.50,537.00 490.50,534.40 490.50,539.60" fill="#23705a"/>
<text x="502.5" y="533" font-size="14.2" text-anchor="middle" textLength="5.5" lengthAdjust="spacingAndGlyphs">4</text>
<line x1="507.00" y1="198.50" x2="638.75" y2="198.50" stroke="#7d918c" stroke-width="1"/>
<line x1="638.75" y1="198.25" x2="642.00" y2="245.00" stroke="#7d918c" stroke-width="1"/>
<text x="513" y="194.25" font-size="14.2" text-anchor="start" textLength="111.25" lengthAdjust="spacingAndGlyphs">SAE A I” 3/8 DIN96 I I</text>
<line x1="528.00" y1="228.50" x2="572.50" y2="228.50" stroke="#7d918c" stroke-width="1"/>
<line x1="572.50" y1="228.75" x2="590.00" y2="248.00" stroke="#7d918c" stroke-width="1"/>
<text x="537.5" y="225" font-size="14.2" text-anchor="start" textLength="30.5" lengthAdjust="spacingAndGlyphs">Ø 110</text>
<line x1="513.75" y1="258.50" x2="563.75" y2="258.50" stroke="#7d918c" stroke-width="1"/>
<line x1="563.75" y1="258.75" x2="616.00" y2="287.50" stroke="#7d918c" stroke-width="1"/>
<text x="527.5" y="255" font-size="14.2" text-anchor="start" textLength="30.5" lengthAdjust="spacingAndGlyphs">Ø 145</text>
<line x1="721.00" y1="258.50" x2="765.00" y2="258.50" stroke="#7d918c" stroke-width="1"/>
<line x1="721.00" y1="258.75" x2="704.00" y2="327.50" stroke="#7d918c" stroke-width="1"/>
<text x="723.75" y="255" font-size="14.2" text-anchor="start" textLength="35.75" lengthAdjust="spacingAndGlyphs">4xM12</text>
<line x1="657.50" y1="223.50" x2="800.00" y2="223.50" stroke="#7d918c" stroke-width="1"/>
<line x1="654.00" y1="530.50" x2="800.00" y2="530.50" stroke="#7d918c" stroke-width="1"/>
<line x1="786.50" y1="224.00" x2="786.50" y2="530.50" stroke="#7d918c" stroke-width="1"/>
<polygon points="786.50,224.00 789.10,233.00 783.90,233.00" fill="#23705a"/>
<polygon points="786.50,530.50 783.90,521.50 789.10,521.50" fill="#23705a"/>
<text x="782.5" y="375.5" font-size="14.2" text-anchor="middle" textLength="19" lengthAdjust="spacingAndGlyphs" transform="rotate(-90 782.5 375.5)">293</text>
</svg></body></html>
